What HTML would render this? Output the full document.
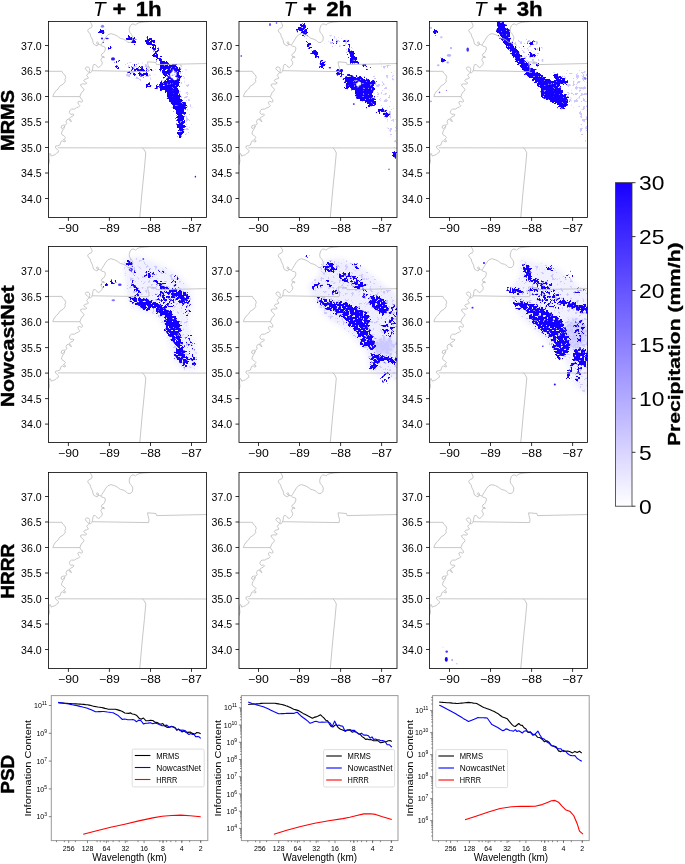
<!DOCTYPE html><html><head><meta charset="utf-8"><style>html,body{margin:0;padding:0;background:#fff;width:685px;height:864px;overflow:hidden}svg{display:block;will-change:transform}</style></head><body><svg width="685" height="864" viewBox="0 0 685 864" font-family='"Liberation Sans", sans-serif' fill="#000">
<defs><clipPath id="pc"><rect x="0" y="0" width="158" height="196"/></clipPath><filter id="bl" x="-5%" y="-5%" width="110%" height="110%" color-interpolation-filters="sRGB"><feGaussianBlur in="SourceAlpha" stdDeviation="0.8" result="a"/><feTurbulence type="fractalNoise" baseFrequency="0.42" numOctaves="3" seed="11" result="t"/><feColorMatrix in="t" type="matrix" values="0 0 0 0 0 0 0 0 0 0 0 0 0 0 0 2.5 0 0 0 -0.75" result="n"/><feComposite in="a" in2="n" operator="arithmetic" k1="0" k2="9" k3="-8" k4="-0.5" result="m"/><feFlood flood-color="#1400ff"/><feComposite in2="m" operator="in"/><feGaussianBlur stdDeviation="0.35"/></filter><filter id="wh" x="-5%" y="-5%" width="110%" height="110%" color-interpolation-filters="sRGB"><feGaussianBlur in="SourceAlpha" stdDeviation="0.8" result="a"/><feTurbulence type="fractalNoise" baseFrequency="0.42" numOctaves="3" seed="3" result="t"/><feColorMatrix in="t" type="matrix" values="0 0 0 0 0 0 0 0 0 0 0 0 0 0 0 2.5 0 0 0 -0.75" result="n"/><feComposite in="a" in2="n" operator="arithmetic" k1="0" k2="9" k3="-8" k4="-0.5" result="m"/><feFlood flood-color="#ffffff"/><feComposite in2="m" operator="in"/><feGaussianBlur stdDeviation="0.35"/></filter><filter id="lt" x="-5%" y="-5%" width="110%" height="110%" color-interpolation-filters="sRGB"><feGaussianBlur in="SourceAlpha" stdDeviation="0.8" result="a"/><feTurbulence type="fractalNoise" baseFrequency="0.32" numOctaves="3" seed="5" result="t"/><feColorMatrix in="t" type="matrix" values="0 0 0 0 0 0 0 0 0 0 0 0 0 0 0 2.5 0 0 0 -0.75" result="n"/><feComposite in="a" in2="n" operator="arithmetic" k1="0" k2="9" k3="-8" k4="-0.5" result="m"/><feFlood flood-color="#ccc8ff"/><feComposite in2="m" operator="in"/><feGaussianBlur stdDeviation="0.35"/></filter><filter id="sm" x="-50%" y="-50%" width="200%" height="200%"><feGaussianBlur stdDeviation="0.35"/></filter><filter id="hz" x="-20%" y="-20%" width="140%" height="140%"><feGaussianBlur stdDeviation="2.5"/></filter></defs>
<rect width="685" height="864" fill="#fff"/>
<g transform="translate(48.5,21.4)">
<g clip-path="url(#pc)">
<g filter="url(#sm)"><ellipse cx="54" cy="4.8" rx="1.6" ry="1.5" fill="#1400ff" fill-opacity="0.5"/><ellipse cx="53.5" cy="17.1" rx="1.1" ry="1.1" fill="#1400ff" fill-opacity="0.9"/><ellipse cx="58.5" cy="17.1" rx="1.8" ry="0.7" fill="#1400ff" fill-opacity="0.9"/><ellipse cx="54.6" cy="21" rx="0.9" ry="0.7" fill="#1400ff" fill-opacity="0.8"/><ellipse cx="64.5" cy="37.5" rx="2.0" ry="1.6" fill="#1400ff" fill-opacity="0.9"/><ellipse cx="146.9" cy="155.3" rx="0.7" ry="0.9" fill="#1400ff" fill-opacity="0.9"/></g><g filter="url(#lt)"><path d="M128.0,44.0C128.7,42.5 133.8,43.3 136.0,46.0C138.2,48.7 139.8,54.3 141.0,60.0C142.2,65.7 142.5,73.3 143.0,80.0C143.5,86.7 144.3,94.5 144.0,100.0C143.7,105.5 142.3,110.7 141.0,113.0C139.7,115.3 137.2,117.0 136.0,114.0C134.8,111.0 134.5,101.5 134.0,95.0C133.5,88.5 133.3,81.7 133.0,75.0C132.7,68.3 132.8,60.2 132.0,55.0C131.2,49.8 127.3,45.5 128.0,44.0Z" fill="#1400ff" fill-opacity="0.28"/><path d="M78.0,42.0C82.3,40.2 99.3,41.7 104.0,44.0C108.7,46.3 107.3,53.3 106.0,56.0C104.7,58.7 100.7,60.2 96.0,60.0C91.3,59.8 81.0,58.0 78.0,55.0C75.0,52.0 73.7,43.8 78.0,42.0Z" fill="#1400ff" fill-opacity="0.3"/></g><g filter="url(#bl)"><path d="M96.4,17.6C96.9,16.8 98.6,16.0 99.9,15.8C101.2,15.6 102.9,15.6 104.0,16.4C105.1,17.2 105.7,19.2 106.4,20.5C107.1,21.8 107.6,22.7 108.1,24.0C108.6,25.3 108.8,26.6 109.3,28.1C109.8,29.7 110.1,31.8 111.0,33.3C111.9,34.8 113.3,35.8 114.5,36.8C115.7,37.8 117.2,38.2 118.0,39.2C118.8,40.2 119.6,42.0 119.2,42.7C118.8,43.4 117.1,43.4 115.7,43.3C114.3,43.2 112.2,42.8 111.0,42.1C109.8,41.4 109.6,40.3 108.7,39.2C107.8,38.1 106.6,36.5 105.8,35.7C105.0,34.9 104.1,35.3 104.0,34.5C103.9,33.7 105.3,32.1 105.2,31.0C105.1,29.9 104.1,29.1 103.4,28.1C102.7,27.1 101.9,26.0 101.1,25.1C100.3,24.2 99.5,23.6 98.8,22.8C98.1,22.0 97.1,21.4 96.7,20.5C96.3,19.6 95.9,18.4 96.4,17.6Z" fill="#1400ff" fill-opacity="0.72"/><path d="M111.6,42.5C112.0,41.8 115.4,41.4 117.0,41.5C118.6,41.6 119.9,42.6 121.4,42.9C123.0,43.2 125.0,42.9 126.3,43.1C127.6,43.3 128.3,43.1 129.1,44.2C129.9,45.3 130.7,47.9 131.2,49.8C131.7,51.7 131.9,53.5 131.9,55.4C131.9,57.2 131.4,59.0 131.2,60.9C131.0,62.8 130.5,64.4 130.5,66.5C130.5,68.6 130.6,71.3 131.2,73.4C131.8,75.5 132.9,77.5 133.9,79.0C134.9,80.5 136.7,81.2 137.4,82.4C138.1,83.6 138.2,84.6 138.1,85.9C138.0,87.2 137.2,88.5 136.7,90.1C136.2,91.7 135.4,93.5 135.3,95.6C135.2,97.7 136.0,100.3 136.0,102.6C136.0,104.9 135.8,107.4 135.3,109.5C134.9,111.6 134.1,113.9 133.3,115.1C132.5,116.3 131.2,116.7 130.5,116.5C129.8,116.3 129.2,115.1 129.1,113.7C129.0,112.3 129.9,109.9 129.8,108.1C129.7,106.2 128.6,104.4 128.4,102.6C128.2,100.8 128.6,98.8 128.4,97.0C128.2,95.2 127.6,93.3 127.0,91.5C126.4,89.7 125.7,87.5 124.9,85.9C124.1,84.3 123.0,83.1 122.1,81.7C121.2,80.3 120.1,79.0 119.4,77.6C118.7,76.2 118.6,74.8 118.0,73.4C117.4,72.0 116.7,69.9 115.9,69.2C115.1,68.5 114.0,69.3 113.1,69.2C112.2,69.1 110.5,69.3 110.3,68.6C110.1,67.9 110.9,66.0 111.7,65.1C112.5,64.2 114.3,63.7 115.2,63.0C116.1,62.3 116.7,61.7 117.3,60.9C117.9,60.1 117.9,59.0 118.7,58.1C119.5,57.2 121.3,56.2 122.1,55.4C122.9,54.6 123.7,54.0 123.5,53.3C123.3,52.6 121.7,51.9 120.8,51.2C119.9,50.5 119.0,50.0 118.0,49.1C117.0,48.2 115.6,46.7 114.5,45.6C113.4,44.5 111.2,43.2 111.6,42.5Z" fill="#1400ff" fill-opacity="1.0"/><path d="M80.0,45.5C81.5,44.6 85.3,44.6 88.0,44.5C90.7,44.4 93.7,44.6 96.0,45.0C98.3,45.4 100.8,46.0 102.0,47.0C103.2,48.0 103.7,49.7 103.0,51.0C102.3,52.3 100.2,54.2 98.0,55.0C95.8,55.8 92.3,55.7 90.0,55.5C87.7,55.3 85.8,54.9 84.0,54.0C82.2,53.1 79.7,51.4 79.0,50.0C78.3,48.6 78.5,46.4 80.0,45.5Z" fill="#1400ff" fill-opacity="0.45"/><ellipse cx="53" cy="10.5" rx="3.3" ry="2.4" fill="#1400ff" fill-opacity="1.0"/><ellipse cx="61.5" cy="25.5" rx="2.8" ry="2.5" fill="#1400ff" fill-opacity="0.35"/><ellipse cx="68.9" cy="39.5" rx="2.6" ry="1.4" fill="#1400ff" fill-opacity="0.9"/><ellipse cx="68.2" cy="45.5" rx="1.6" ry="2.8" fill="#1400ff" fill-opacity="0.9"/><ellipse cx="81" cy="17" rx="2.8" ry="2.8" fill="#1400ff" fill-opacity="0.92"/><ellipse cx="85.5" cy="19.5" rx="2.0" ry="3.2" fill="#1400ff" fill-opacity="1.0"/><ellipse cx="85.7" cy="42.7" rx="2.2" ry="0.9" fill="#1400ff" fill-opacity="0.6"/><ellipse cx="93" cy="49.5" rx="2.5" ry="2.0" fill="#1400ff" fill-opacity="0.9"/><ellipse cx="94.5" cy="53.5" rx="3" ry="1.2" fill="#1400ff" fill-opacity="0.85" transform="rotate(-15 94.5 53.5)"/><ellipse cx="100.5" cy="64" rx="4.5" ry="1.5" fill="#1400ff" fill-opacity="0.85" transform="rotate(-25 100.5 64)"/><ellipse cx="113.5" cy="61.5" rx="5" ry="2.2" fill="#1400ff" fill-opacity="0.8" transform="rotate(-40 113.5 61.5)"/><path d="M111.0,43.0C112.2,42.5 116.2,43.2 118.0,44.0C119.8,44.8 121.4,46.2 122.0,48.0C122.6,49.8 122.2,53.5 121.5,55.0C120.8,56.5 119.4,57.5 118.0,57.0C116.6,56.5 114.2,53.7 113.0,52.0C111.8,50.3 110.8,48.5 110.5,47.0C110.2,45.5 109.8,43.5 111.0,43.0Z" fill="#1400ff" fill-opacity="0.85"/><ellipse cx="109.5" cy="65.5" rx="3" ry="1.5" fill="#1400ff" fill-opacity="0.7" transform="rotate(-30 109.5 65.5)"/><ellipse cx="99" cy="20" rx="2.5" ry="3.5" fill="#1400ff" fill-opacity="0.6"/></g><ellipse cx="125" cy="53.8" rx="2.8" ry="5.0" fill="#fff" fill-opacity="1" filter="url(#wh)" transform="rotate(-20 125 53.8)"/>
<g fill="none" stroke="#bdbdbd" stroke-width="0.85" stroke-linejoin="round">
<polyline points="42.0,-1.0 42.0,0.8 43.0,2.6 43.7,4.7 42.7,6.4 40.6,7.1 39.2,8.8 39.9,10.9 41.7,12.3 42.0,14.4 43.0,16.5 44.1,18.6 44.4,20.6 45.1,22.7 46.9,23.8 48.6,24.5 49.6,23.4 50.0,21.3 48.6,20.3 47.9,21.3 48.9,22.7 51.0,23.1 52.4,23.8 53.5,24.8 55.2,25.1 56.6,25.8 56.9,27.6 56.2,29.7 55.2,31.4 53.5,32.4 52.8,33.8 53.5,35.2 54.5,35.9 55.9,36.3 55.5,35.2 54.2,34.9 53.5,36.6 52.4,38.0 52.8,39.4 53.8,40.8 53.5,42.9 51.7,45.0 50.3,46.0 48.9,45.6 47.9,44.2 46.9,43.2 45.1,43.2 44.4,44.9 44.1,47.7 43.4,49.8 42.0,51.5 40.6,51.2 39.2,49.8 37.5,48.4 36.8,47.0 37.8,45.6 39.9,45.6 41.0,47.0 41.3,49.1 40.6,51.2 39.2,52.6 38.2,54.0 39.2,55.4 39.9,56.7 39.0,57.2 36.2,57.9 35.2,59.3 36.9,60.7 38.3,61.7 36.9,62.7 34.1,62.4 32.1,63.1 32.4,64.8 34.1,66.2 35.5,68.0 34.8,69.7 33.4,70.7 32.4,72.5 31.4,75.2 32.1,76.6 33.4,78.0 34.1,80.1 32.8,80.8 30.7,79.8 29.3,80.8 30.0,82.9 31.4,84.3 30.0,85.7 27.9,86.4 25.8,87.7 23.0,87.7 21.3,89.1 20.9,91.2 22.3,93.0 24.4,92.6 25.5,93.3 24.4,94.7 22.3,95.7 20.9,96.8 22.3,98.9 23.0,100.2 21.6,99.6 20.3,97.5 18.5,98.2 17.5,100.2 18.2,102.3 16.8,103.7 14.7,103.7 13.0,104.4 12.6,106.5 14.0,107.2 15.4,105.8 16.4,104.4 15.4,107.2 14.3,108.6 13.3,110.7 13.0,112.7 13.5,113.2 15.6,114.6 17.0,116.0 15.9,117.4 14.9,118.4 16.6,118.7 17.0,120.1 15.6,120.5 14.2,119.4 12.8,119.8 12.1,121.5 11.4,123.6 9.3,124.3 7.2,124.6 6.9,126.4 8.6,127.8 10.0,129.2 9.7,130.9 7.9,132.0 6.5,133.3 4.4,134.0 2.7,134.7 2.0,132.6 1.3,131.9 0.6,134.0 0.6,136.8 1.0,139.6 0.3,142.4 -1.0,145.0"/>
<polyline points="52.4,23.6 53.5,22.0 55.2,19.2 57.3,15.8 59.5,13.3 62.4,12.2 66.1,13.3 69.0,14.8 71.9,17.0 74.8,17.7 77.4,19.1 79.2,21.0 82.1,21.0 84.0,18.8 84.3,15.5 82.9,12.9 81.0,10.7 80.7,7.8 81.8,4.2 83.6,2.6 85.8,2.7 86.9,3.8 88.3,2.4 90.2,1.4 93.1,0.9 96.0,0.5 100.4,0.2 104.0,-1.0"/>
<polyline points="-1.0,49.9 13.4,49.9 14.1,51.6 16.3,53.5 17.3,56.0 16.4,58.0 16.8,60.0 14.7,62.7 11.2,64.8 9.5,67.6 7.1,69.7 5.3,72.5 4.3,75.2 31.4,75.2"/>
<polyline points="43.6,49.3 100.1,50.2 100.5,47.2 99.4,42.9 99.1,40.4 107.4,41.1 108.1,43.2 159.0,42.1"/>
<polyline points="9.3,126.4 159.0,126.6"/>
<polyline points="93.7,126.2 95.9,128.6 97.3,131.6 95.9,146.9 93.7,168.8 91.2,197.0"/>
</g>
</g>
<rect x="0" y="0" width="158" height="196" fill="none" stroke="#000" stroke-width="0.8"/>
<path d="M19.9,196v3.5 M60.9,196v3.5 M102.0,196v3.5 M143.0,196v3.5 M0,24.1h-3.5 M0,49.6h-3.5 M0,75.1h-3.5 M0,100.6h-3.5 M0,126.1h-3.5 M0,151.6h-3.5 M0,177.1h-3.5" stroke="#000" stroke-width="0.8" fill="none"/>
<text x="19.9" y="210.5" text-anchor="middle" font-size="10.6" textLength="20.8" lengthAdjust="spacingAndGlyphs">−90</text>
<text x="60.9" y="210.5" text-anchor="middle" font-size="10.6" textLength="20.8" lengthAdjust="spacingAndGlyphs">−89</text>
<text x="102.0" y="210.5" text-anchor="middle" font-size="10.6" textLength="20.8" lengthAdjust="spacingAndGlyphs">−88</text>
<text x="143.0" y="210.5" text-anchor="middle" font-size="10.6" textLength="20.8" lengthAdjust="spacingAndGlyphs">−87</text>
<text x="-6.8" y="28.4" text-anchor="end" font-size="10.6" textLength="20.6" lengthAdjust="spacingAndGlyphs">37.0</text>
<text x="-6.8" y="53.9" text-anchor="end" font-size="10.6" textLength="20.6" lengthAdjust="spacingAndGlyphs">36.5</text>
<text x="-6.8" y="79.4" text-anchor="end" font-size="10.6" textLength="20.6" lengthAdjust="spacingAndGlyphs">36.0</text>
<text x="-6.8" y="104.9" text-anchor="end" font-size="10.6" textLength="20.6" lengthAdjust="spacingAndGlyphs">35.5</text>
<text x="-6.8" y="130.4" text-anchor="end" font-size="10.6" textLength="20.6" lengthAdjust="spacingAndGlyphs">35.0</text>
<text x="-6.8" y="155.9" text-anchor="end" font-size="10.6" textLength="20.6" lengthAdjust="spacingAndGlyphs">34.5</text>
<text x="-6.8" y="181.4" text-anchor="end" font-size="10.6" textLength="20.6" lengthAdjust="spacingAndGlyphs">34.0</text>
</g>
<g transform="translate(239.0,21.4)">
<g clip-path="url(#pc)">
<g filter="url(#sm)"><ellipse cx="90.9" cy="46.4" rx="1.3" ry="0.8" fill="#1400ff" fill-opacity="0.9"/><ellipse cx="114.8" cy="82.7" rx="1.0" ry="0.8" fill="#1400ff" fill-opacity="0.9"/><ellipse cx="2.3" cy="34.6" rx="0.9" ry="0.9" fill="#1400ff" fill-opacity="0.6"/><ellipse cx="31" cy="3" rx="1" ry="1.5" fill="#1400ff" fill-opacity="0.7"/><ellipse cx="37.5" cy="1.5" rx="0.8" ry="1" fill="#1400ff" fill-opacity="0.6"/><ellipse cx="150" cy="148" rx="0.7" ry="0.8" fill="#1400ff" fill-opacity="0.7"/></g><g filter="url(#lt)"><path d="M134.0,52.0C135.3,50.3 139.3,53.0 142.0,56.0C144.7,59.0 147.8,64.3 150.0,70.0C152.2,75.7 153.7,82.5 155.0,90.0C156.3,97.5 157.7,108.7 158.0,115.0C158.3,121.3 158.0,127.5 157.0,128.0C156.0,128.5 153.7,123.0 152.0,118.0C150.3,113.0 148.8,104.3 147.0,98.0C145.2,91.7 143.2,85.3 141.0,80.0C138.8,74.7 135.2,70.7 134.0,66.0C132.8,61.3 132.7,53.7 134.0,52.0Z" fill="#1400ff" fill-opacity="0.3"/><path d="M85.0,15.0C87.0,13.2 95.5,13.2 100.0,14.0C104.5,14.8 110.0,17.3 112.0,20.0C114.0,22.7 114.0,28.7 112.0,30.0C110.0,31.3 104.0,28.8 100.0,28.0C96.0,27.2 90.5,27.2 88.0,25.0C85.5,22.8 83.0,16.8 85.0,15.0Z" fill="#1400ff" fill-opacity="0.22"/><path d="M140.0,40.0C141.7,39.0 149.0,42.3 152.0,44.0C155.0,45.7 157.0,47.3 158.0,50.0C159.0,52.7 159.3,58.7 158.0,60.0C156.7,61.3 152.7,59.7 150.0,58.0C147.3,56.3 143.7,53.0 142.0,50.0C140.3,47.0 138.3,41.0 140.0,40.0Z" fill="#1400ff" fill-opacity="0.2"/></g><g filter="url(#bl)"><path d="M104.9,57.2C105.3,56.3 106.7,55.3 107.9,54.7C109.1,54.1 110.4,53.7 111.9,53.7C113.4,53.7 115.2,54.5 116.8,54.7C118.4,55.0 120.3,54.9 121.8,55.2C123.3,55.5 124.7,56.3 125.8,56.7C126.9,57.1 127.7,57.2 128.7,57.7C129.7,58.2 130.7,59.5 131.7,59.7C132.7,60.0 133.8,59.1 134.7,59.2C135.6,59.3 137.0,59.6 137.2,60.2C137.4,60.8 136.1,61.7 135.7,62.6C135.3,63.5 134.6,64.6 134.7,65.6C134.8,66.6 136.2,67.6 136.2,68.6C136.2,69.6 135.1,70.7 134.7,71.6C134.3,72.5 133.5,73.4 133.7,74.1C133.9,74.8 135.1,75.1 135.7,76.0C136.3,76.9 137.1,78.3 137.2,79.5C137.3,80.7 136.9,82.1 136.2,83.0C135.4,83.9 133.9,84.4 132.7,85.0C131.5,85.6 130.0,86.6 129.2,86.5C128.4,86.4 127.9,85.3 127.7,84.5C127.5,83.7 128.4,82.2 128.2,81.5C128.0,80.8 127.0,81.0 126.3,80.5C125.6,80.0 124.7,78.9 123.8,78.5C122.9,78.1 121.7,78.2 120.8,78.0C119.9,77.8 119.0,77.6 118.3,77.0C117.6,76.4 117.3,75.6 116.8,74.5C116.3,73.4 115.8,71.6 115.3,70.6C114.8,69.6 114.5,69.2 113.8,68.6C113.1,68.0 112.0,67.3 110.9,67.1C109.8,66.8 108.2,67.4 107.4,67.1C106.6,66.8 106.0,65.8 105.9,65.1C105.8,64.3 107.0,63.4 106.9,62.6C106.8,61.8 105.7,61.1 105.4,60.2C105.1,59.3 104.5,58.1 104.9,57.2Z" fill="#1400ff" fill-opacity="1.0"/><path d="M137.7,89.4C138.1,88.8 139.5,87.3 140.7,87.0C141.8,86.7 143.4,87.1 144.6,87.5C145.8,87.9 146.7,88.5 147.6,89.4C148.5,90.3 149.9,91.9 150.1,93.0C150.3,94.1 149.2,95.5 148.6,95.9C148.0,96.3 147.4,96.0 146.6,95.4C145.8,94.8 144.6,93.2 143.6,92.4C142.6,91.7 141.6,91.2 140.7,90.9C139.8,90.7 138.7,91.2 138.2,90.9C137.7,90.7 137.3,90.1 137.7,89.4Z" fill="#1400ff" fill-opacity="0.97"/><path d="M58.7,5.7C59.4,4.5 61.4,2.4 62.7,1.8C64.0,1.2 65.6,1.2 66.6,2.4C67.6,3.6 68.2,7.2 68.6,9.0C69.0,10.8 69.5,11.7 69.2,12.9C68.9,14.1 67.5,16.0 66.6,16.2C65.7,16.4 65.0,15.2 64.0,14.3C63.0,13.4 61.6,11.9 60.7,11.0C59.8,10.1 59.0,9.9 58.7,9.0C58.4,8.1 58.0,6.9 58.7,5.7Z" fill="#1400ff" fill-opacity="0.92"/><path d="M108.7,29.4C109.2,28.2 110.9,27.5 112.0,28.0C113.1,28.5 114.1,31.0 115.2,32.6C116.3,34.2 117.7,36.4 118.5,37.9C119.3,39.4 120.2,41.2 119.8,41.8C119.4,42.3 117.1,41.7 115.9,41.2C114.7,40.7 113.7,39.6 112.6,38.6C111.5,37.6 109.9,36.8 109.3,35.3C108.7,33.8 108.2,30.6 108.7,29.4Z" fill="#1400ff" fill-opacity="0.95"/><ellipse cx="69.5" cy="23.5" rx="1.7" ry="3.8" fill="#1400ff" fill-opacity="0.95" transform="rotate(-30 69.5 23.5)"/><ellipse cx="76" cy="32.5" rx="3.3" ry="4.3" fill="#1400ff" fill-opacity="1.0" transform="rotate(-35 76 32.5)"/><ellipse cx="83" cy="43" rx="3" ry="3.3" fill="#1400ff" fill-opacity="1.0"/><ellipse cx="100.5" cy="50.5" rx="2.5" ry="4" fill="#1400ff" fill-opacity="1.0" transform="rotate(-30 100.5 50.5)"/><ellipse cx="101.4" cy="50.7" rx="2.5" ry="1.5" fill="#1400ff" fill-opacity="0.9"/><ellipse cx="113.8" cy="40" rx="5" ry="1.6" fill="#1400ff" fill-opacity="0.8"/><ellipse cx="126" cy="45.5" rx="5.5" ry="2.8" fill="#1400ff" fill-opacity="0.45"/><ellipse cx="155.5" cy="133" rx="2.2" ry="4.3" fill="#1400ff" fill-opacity="0.85"/><ellipse cx="93.5" cy="21.5" rx="5" ry="5.5" fill="#1400ff" fill-opacity="0.25"/><ellipse cx="108" cy="22" rx="4" ry="4" fill="#1400ff" fill-opacity="0.35"/></g><ellipse cx="119.5" cy="62.5" rx="3.2" ry="2.6" fill="#fff" filter="url(#wh)" transform="rotate(30 119.5 62.5)"/>
<g fill="none" stroke="#bdbdbd" stroke-width="0.85" stroke-linejoin="round">
<polyline points="42.0,-1.0 42.0,0.8 43.0,2.6 43.7,4.7 42.7,6.4 40.6,7.1 39.2,8.8 39.9,10.9 41.7,12.3 42.0,14.4 43.0,16.5 44.1,18.6 44.4,20.6 45.1,22.7 46.9,23.8 48.6,24.5 49.6,23.4 50.0,21.3 48.6,20.3 47.9,21.3 48.9,22.7 51.0,23.1 52.4,23.8 53.5,24.8 55.2,25.1 56.6,25.8 56.9,27.6 56.2,29.7 55.2,31.4 53.5,32.4 52.8,33.8 53.5,35.2 54.5,35.9 55.9,36.3 55.5,35.2 54.2,34.9 53.5,36.6 52.4,38.0 52.8,39.4 53.8,40.8 53.5,42.9 51.7,45.0 50.3,46.0 48.9,45.6 47.9,44.2 46.9,43.2 45.1,43.2 44.4,44.9 44.1,47.7 43.4,49.8 42.0,51.5 40.6,51.2 39.2,49.8 37.5,48.4 36.8,47.0 37.8,45.6 39.9,45.6 41.0,47.0 41.3,49.1 40.6,51.2 39.2,52.6 38.2,54.0 39.2,55.4 39.9,56.7 39.0,57.2 36.2,57.9 35.2,59.3 36.9,60.7 38.3,61.7 36.9,62.7 34.1,62.4 32.1,63.1 32.4,64.8 34.1,66.2 35.5,68.0 34.8,69.7 33.4,70.7 32.4,72.5 31.4,75.2 32.1,76.6 33.4,78.0 34.1,80.1 32.8,80.8 30.7,79.8 29.3,80.8 30.0,82.9 31.4,84.3 30.0,85.7 27.9,86.4 25.8,87.7 23.0,87.7 21.3,89.1 20.9,91.2 22.3,93.0 24.4,92.6 25.5,93.3 24.4,94.7 22.3,95.7 20.9,96.8 22.3,98.9 23.0,100.2 21.6,99.6 20.3,97.5 18.5,98.2 17.5,100.2 18.2,102.3 16.8,103.7 14.7,103.7 13.0,104.4 12.6,106.5 14.0,107.2 15.4,105.8 16.4,104.4 15.4,107.2 14.3,108.6 13.3,110.7 13.0,112.7 13.5,113.2 15.6,114.6 17.0,116.0 15.9,117.4 14.9,118.4 16.6,118.7 17.0,120.1 15.6,120.5 14.2,119.4 12.8,119.8 12.1,121.5 11.4,123.6 9.3,124.3 7.2,124.6 6.9,126.4 8.6,127.8 10.0,129.2 9.7,130.9 7.9,132.0 6.5,133.3 4.4,134.0 2.7,134.7 2.0,132.6 1.3,131.9 0.6,134.0 0.6,136.8 1.0,139.6 0.3,142.4 -1.0,145.0"/>
<polyline points="52.4,23.6 53.5,22.0 55.2,19.2 57.3,15.8 59.5,13.3 62.4,12.2 66.1,13.3 69.0,14.8 71.9,17.0 74.8,17.7 77.4,19.1 79.2,21.0 82.1,21.0 84.0,18.8 84.3,15.5 82.9,12.9 81.0,10.7 80.7,7.8 81.8,4.2 83.6,2.6 85.8,2.7 86.9,3.8 88.3,2.4 90.2,1.4 93.1,0.9 96.0,0.5 100.4,0.2 104.0,-1.0"/>
<polyline points="-1.0,49.9 13.4,49.9 14.1,51.6 16.3,53.5 17.3,56.0 16.4,58.0 16.8,60.0 14.7,62.7 11.2,64.8 9.5,67.6 7.1,69.7 5.3,72.5 4.3,75.2 31.4,75.2"/>
<polyline points="43.6,49.3 100.1,50.2 100.5,47.2 99.4,42.9 99.1,40.4 107.4,41.1 108.1,43.2 159.0,42.1"/>
<polyline points="9.3,126.4 159.0,126.6"/>
<polyline points="93.7,126.2 95.9,128.6 97.3,131.6 95.9,146.9 93.7,168.8 91.2,197.0"/>
</g>
</g>
<rect x="0" y="0" width="158" height="196" fill="none" stroke="#000" stroke-width="0.8"/>
<path d="M19.5,196v3.5 M60.5,196v3.5 M101.6,196v3.5 M142.6,196v3.5 M0,24.1h-3.5 M0,49.6h-3.5 M0,75.1h-3.5 M0,100.6h-3.5 M0,126.1h-3.5 M0,151.6h-3.5 M0,177.1h-3.5" stroke="#000" stroke-width="0.8" fill="none"/>
<text x="19.5" y="210.5" text-anchor="middle" font-size="10.6" textLength="20.8" lengthAdjust="spacingAndGlyphs">−90</text>
<text x="60.5" y="210.5" text-anchor="middle" font-size="10.6" textLength="20.8" lengthAdjust="spacingAndGlyphs">−89</text>
<text x="101.6" y="210.5" text-anchor="middle" font-size="10.6" textLength="20.8" lengthAdjust="spacingAndGlyphs">−88</text>
<text x="142.6" y="210.5" text-anchor="middle" font-size="10.6" textLength="20.8" lengthAdjust="spacingAndGlyphs">−87</text>
<text x="-6.8" y="28.4" text-anchor="end" font-size="10.6" textLength="20.6" lengthAdjust="spacingAndGlyphs">37.0</text>
<text x="-6.8" y="53.9" text-anchor="end" font-size="10.6" textLength="20.6" lengthAdjust="spacingAndGlyphs">36.5</text>
<text x="-6.8" y="79.4" text-anchor="end" font-size="10.6" textLength="20.6" lengthAdjust="spacingAndGlyphs">36.0</text>
<text x="-6.8" y="104.9" text-anchor="end" font-size="10.6" textLength="20.6" lengthAdjust="spacingAndGlyphs">35.5</text>
<text x="-6.8" y="130.4" text-anchor="end" font-size="10.6" textLength="20.6" lengthAdjust="spacingAndGlyphs">35.0</text>
<text x="-6.8" y="155.9" text-anchor="end" font-size="10.6" textLength="20.6" lengthAdjust="spacingAndGlyphs">34.5</text>
<text x="-6.8" y="181.4" text-anchor="end" font-size="10.6" textLength="20.6" lengthAdjust="spacingAndGlyphs">34.0</text>
</g>
<g transform="translate(429.5,21.4)">
<g clip-path="url(#pc)">
<g filter="url(#sm)"><ellipse cx="38.2" cy="28.2" rx="1.3" ry="2.2" fill="#1400ff" fill-opacity="0.8"/><ellipse cx="1.5" cy="6.5" rx="1" ry="0.9" fill="#1400ff" fill-opacity="0.3"/><ellipse cx="11.8" cy="15.8" rx="1.2" ry="1.2" fill="#1400ff" fill-opacity="0.2"/><ellipse cx="21.5" cy="26.7" rx="1" ry="1.1" fill="#1400ff" fill-opacity="0.35"/><ellipse cx="19.5" cy="34" rx="2.2" ry="1.3" fill="#1400ff" fill-opacity="0.3"/><ellipse cx="18.2" cy="41" rx="1.2" ry="1" fill="#1400ff" fill-opacity="0.4"/><ellipse cx="8.8" cy="43.8" rx="1.2" ry="1" fill="#1400ff" fill-opacity="0.3"/><ellipse cx="1.5" cy="80" rx="0.7" ry="0.8" fill="#1400ff" fill-opacity="0.5"/><ellipse cx="10" cy="71" rx="0.8" ry="0.8" fill="#1400ff" fill-opacity="0.6"/><ellipse cx="17" cy="69" rx="0.6" ry="0.6" fill="#1400ff" fill-opacity="0.5"/><ellipse cx="155" cy="57" rx="2" ry="1.5" fill="#1400ff" fill-opacity="0.5"/></g><g filter="url(#lt)"><path d="M134.0,52.0C135.0,47.0 142.0,50.0 146.0,50.0C150.0,50.0 155.8,43.7 158.0,52.0C160.2,60.3 159.3,88.7 159.0,100.0C158.7,111.3 157.5,118.3 156.0,120.0C154.5,121.7 151.3,115.0 150.0,110.0C148.7,105.0 149.7,95.0 148.0,90.0C146.3,85.0 142.3,86.3 140.0,80.0C137.7,73.7 133.0,57.0 134.0,52.0Z" fill="#1400ff" fill-opacity="0.32"/><path d="M78.0,20.0C79.7,17.2 94.3,17.2 100.0,18.0C105.7,18.8 110.0,20.5 112.0,25.0C114.0,29.5 114.0,41.7 112.0,45.0C110.0,48.3 103.7,46.7 100.0,45.0C96.3,43.3 93.7,39.2 90.0,35.0C86.3,30.8 76.3,22.8 78.0,20.0Z" fill="#1400ff" fill-opacity="0.3"/></g><g filter="url(#bl)"><path d="M67.7,0.5C67.5,2.2 66.4,5.9 66.9,8.4C67.4,10.9 69.2,13.1 70.5,15.5C71.8,17.9 73.4,20.6 74.8,22.7C76.2,24.8 77.7,26.2 79.1,28.4C80.5,30.5 82.0,33.5 83.4,35.6C84.8,37.8 86.2,39.4 87.7,41.3C89.2,43.2 91.4,45.1 92.7,47.0C94.0,48.9 94.2,51.2 95.5,52.7C96.8,54.2 98.8,54.9 100.6,56.3C102.4,57.7 104.8,59.5 106.3,61.3C107.8,63.1 109.2,65.3 109.9,67.0C110.6,68.7 110.1,69.9 110.6,71.3C111.1,72.7 111.0,74.2 112.7,75.6C114.4,77.0 118.1,78.5 120.6,79.9C123.1,81.3 126.0,82.9 127.7,84.2C129.4,85.5 129.4,87.3 130.6,87.8C131.8,88.3 133.6,87.9 134.9,87.1C136.2,86.3 137.8,84.2 138.5,82.8C139.2,81.4 139.6,79.9 139.2,78.5C138.8,77.1 137.2,75.6 136.3,74.2C135.4,72.8 134.4,71.3 133.5,69.9C132.6,68.5 131.6,66.8 130.6,65.6C129.6,64.4 128.9,63.7 127.7,62.7C126.5,61.8 125.1,60.9 123.4,59.9C121.7,58.9 119.4,57.8 117.7,57.0C116.0,56.2 114.8,55.9 113.4,54.9C112.0,53.9 110.8,52.6 109.1,51.3C107.4,50.0 105.2,48.7 103.4,47.0C101.6,45.3 99.8,43.0 98.4,41.3C97.0,39.6 96.1,38.4 94.8,37.0C93.5,35.6 91.7,34.1 90.5,32.7C89.3,31.3 88.9,30.1 87.7,28.4C86.5,26.7 84.6,24.6 83.4,22.7C82.2,20.8 81.0,19.1 80.5,17.0C80.0,14.8 81.1,11.7 80.5,9.8C79.9,7.9 78.2,6.9 77.0,5.5C75.8,4.1 74.1,2.4 73.4,1.2C72.7,0.0 73.5,-1.1 72.7,-1.5C71.9,-1.9 69.2,-1.8 68.4,-1.5C67.6,-1.2 68.0,-1.2 67.7,0.5Z" fill="#1400ff" fill-opacity="1.0"/><path d="M123.4,54.2C123.6,52.4 126.3,51.6 127.7,52.0C129.1,52.4 130.6,55.3 132.0,56.3C133.4,57.2 135.1,56.9 136.3,57.7C137.5,58.5 139.4,60.5 139.2,61.3C139.0,62.1 136.3,62.2 134.9,62.7C133.5,63.2 132.0,64.2 130.6,64.2C129.2,64.2 127.5,64.4 126.3,62.7C125.1,61.0 123.2,56.0 123.4,54.2Z" fill="#1400ff" fill-opacity="0.92"/><ellipse cx="102.3" cy="22" rx="2.5" ry="2.2" fill="#1400ff" fill-opacity="0.95"/><ellipse cx="102.3" cy="34" rx="2.5" ry="2.8" fill="#1400ff" fill-opacity="0.95"/><ellipse cx="108.5" cy="43.5" rx="2.2" ry="2.2" fill="#1400ff" fill-opacity="0.9"/><ellipse cx="95" cy="25" rx="4" ry="4" fill="#1400ff" fill-opacity="0.25"/><ellipse cx="108" cy="30" rx="4" ry="5" fill="#1400ff" fill-opacity="0.25"/><ellipse cx="5.5" cy="10.6" rx="2.5" ry="2.4" fill="#1400ff" fill-opacity="1.0"/><ellipse cx="14.1" cy="38.8" rx="2.9" ry="2.3" fill="#1400ff" fill-opacity="1.0"/><ellipse cx="150" cy="53" rx="2.5" ry="1.2" fill="#1400ff" fill-opacity="0.4"/></g>
<g fill="none" stroke="#bdbdbd" stroke-width="0.85" stroke-linejoin="round">
<polyline points="42.0,-1.0 42.0,0.8 43.0,2.6 43.7,4.7 42.7,6.4 40.6,7.1 39.2,8.8 39.9,10.9 41.7,12.3 42.0,14.4 43.0,16.5 44.1,18.6 44.4,20.6 45.1,22.7 46.9,23.8 48.6,24.5 49.6,23.4 50.0,21.3 48.6,20.3 47.9,21.3 48.9,22.7 51.0,23.1 52.4,23.8 53.5,24.8 55.2,25.1 56.6,25.8 56.9,27.6 56.2,29.7 55.2,31.4 53.5,32.4 52.8,33.8 53.5,35.2 54.5,35.9 55.9,36.3 55.5,35.2 54.2,34.9 53.5,36.6 52.4,38.0 52.8,39.4 53.8,40.8 53.5,42.9 51.7,45.0 50.3,46.0 48.9,45.6 47.9,44.2 46.9,43.2 45.1,43.2 44.4,44.9 44.1,47.7 43.4,49.8 42.0,51.5 40.6,51.2 39.2,49.8 37.5,48.4 36.8,47.0 37.8,45.6 39.9,45.6 41.0,47.0 41.3,49.1 40.6,51.2 39.2,52.6 38.2,54.0 39.2,55.4 39.9,56.7 39.0,57.2 36.2,57.9 35.2,59.3 36.9,60.7 38.3,61.7 36.9,62.7 34.1,62.4 32.1,63.1 32.4,64.8 34.1,66.2 35.5,68.0 34.8,69.7 33.4,70.7 32.4,72.5 31.4,75.2 32.1,76.6 33.4,78.0 34.1,80.1 32.8,80.8 30.7,79.8 29.3,80.8 30.0,82.9 31.4,84.3 30.0,85.7 27.9,86.4 25.8,87.7 23.0,87.7 21.3,89.1 20.9,91.2 22.3,93.0 24.4,92.6 25.5,93.3 24.4,94.7 22.3,95.7 20.9,96.8 22.3,98.9 23.0,100.2 21.6,99.6 20.3,97.5 18.5,98.2 17.5,100.2 18.2,102.3 16.8,103.7 14.7,103.7 13.0,104.4 12.6,106.5 14.0,107.2 15.4,105.8 16.4,104.4 15.4,107.2 14.3,108.6 13.3,110.7 13.0,112.7 13.5,113.2 15.6,114.6 17.0,116.0 15.9,117.4 14.9,118.4 16.6,118.7 17.0,120.1 15.6,120.5 14.2,119.4 12.8,119.8 12.1,121.5 11.4,123.6 9.3,124.3 7.2,124.6 6.9,126.4 8.6,127.8 10.0,129.2 9.7,130.9 7.9,132.0 6.5,133.3 4.4,134.0 2.7,134.7 2.0,132.6 1.3,131.9 0.6,134.0 0.6,136.8 1.0,139.6 0.3,142.4 -1.0,145.0"/>
<polyline points="52.4,23.6 53.5,22.0 55.2,19.2 57.3,15.8 59.5,13.3 62.4,12.2 66.1,13.3 69.0,14.8 71.9,17.0 74.8,17.7 77.4,19.1 79.2,21.0 82.1,21.0 84.0,18.8 84.3,15.5 82.9,12.9 81.0,10.7 80.7,7.8 81.8,4.2 83.6,2.6 85.8,2.7 86.9,3.8 88.3,2.4 90.2,1.4 93.1,0.9 96.0,0.5 100.4,0.2 104.0,-1.0"/>
<polyline points="-1.0,49.9 13.4,49.9 14.1,51.6 16.3,53.5 17.3,56.0 16.4,58.0 16.8,60.0 14.7,62.7 11.2,64.8 9.5,67.6 7.1,69.7 5.3,72.5 4.3,75.2 31.4,75.2"/>
<polyline points="43.6,49.3 100.1,50.2 100.5,47.2 99.4,42.9 99.1,40.4 107.4,41.1 108.1,43.2 159.0,42.1"/>
<polyline points="9.3,126.4 159.0,126.6"/>
<polyline points="93.7,126.2 95.9,128.6 97.3,131.6 95.9,146.9 93.7,168.8 91.2,197.0"/>
</g>
</g>
<rect x="0" y="0" width="158" height="196" fill="none" stroke="#000" stroke-width="0.8"/>
<path d="M20.0,196v3.5 M61.0,196v3.5 M102.1,196v3.5 M143.1,196v3.5 M0,24.1h-3.5 M0,49.6h-3.5 M0,75.1h-3.5 M0,100.6h-3.5 M0,126.1h-3.5 M0,151.6h-3.5 M0,177.1h-3.5" stroke="#000" stroke-width="0.8" fill="none"/>
<text x="20.0" y="210.5" text-anchor="middle" font-size="10.6" textLength="20.8" lengthAdjust="spacingAndGlyphs">−90</text>
<text x="61.0" y="210.5" text-anchor="middle" font-size="10.6" textLength="20.8" lengthAdjust="spacingAndGlyphs">−89</text>
<text x="102.1" y="210.5" text-anchor="middle" font-size="10.6" textLength="20.8" lengthAdjust="spacingAndGlyphs">−88</text>
<text x="143.1" y="210.5" text-anchor="middle" font-size="10.6" textLength="20.8" lengthAdjust="spacingAndGlyphs">−87</text>
<text x="-6.8" y="28.4" text-anchor="end" font-size="10.6" textLength="20.6" lengthAdjust="spacingAndGlyphs">37.0</text>
<text x="-6.8" y="53.9" text-anchor="end" font-size="10.6" textLength="20.6" lengthAdjust="spacingAndGlyphs">36.5</text>
<text x="-6.8" y="79.4" text-anchor="end" font-size="10.6" textLength="20.6" lengthAdjust="spacingAndGlyphs">36.0</text>
<text x="-6.8" y="104.9" text-anchor="end" font-size="10.6" textLength="20.6" lengthAdjust="spacingAndGlyphs">35.5</text>
<text x="-6.8" y="130.4" text-anchor="end" font-size="10.6" textLength="20.6" lengthAdjust="spacingAndGlyphs">35.0</text>
<text x="-6.8" y="155.9" text-anchor="end" font-size="10.6" textLength="20.6" lengthAdjust="spacingAndGlyphs">34.5</text>
<text x="-6.8" y="181.4" text-anchor="end" font-size="10.6" textLength="20.6" lengthAdjust="spacingAndGlyphs">34.0</text>
</g>
<g transform="translate(48.5,246.5)">
<g clip-path="url(#pc)">
<g filter="url(#sm)"><ellipse cx="82.3" cy="23.1" rx="2" ry="1.8" fill="#1400ff" fill-opacity="0.75"/><ellipse cx="94.8" cy="12.5" rx="0.9" ry="1.1" fill="#1400ff" fill-opacity="0.7"/><ellipse cx="71.3" cy="38.2" rx="1.8" ry="1.3" fill="#1400ff" fill-opacity="0.75"/><ellipse cx="64.8" cy="53.7" rx="1.8" ry="1" fill="#1400ff" fill-opacity="0.55"/></g><g filter="url(#hz)"><path d="M76.7,12.2C79.6,11.0 86.3,9.5 92.6,10.7C98.9,11.9 108.3,16.5 114.3,19.4C120.3,22.3 124.7,25.0 128.8,28.1C132.9,31.2 136.5,35.1 138.9,38.2C141.3,41.3 142.6,43.0 143.3,46.9C144.0,50.8 143.8,57.2 143.3,61.3C142.8,65.4 140.7,67.6 140.4,71.5C140.2,75.4 140.6,79.5 141.8,84.5C143.0,89.5 146.4,96.0 147.6,101.8C148.8,107.6 149.7,115.6 149.0,119.2C148.3,122.8 145.7,122.8 143.3,123.5C140.9,124.2 137.5,125.2 134.6,123.5C131.7,121.8 128.3,118.0 125.9,113.4C123.5,108.8 122.0,101.8 120.1,96.0C118.2,90.2 116.9,83.5 114.3,78.7C111.7,73.9 107.6,69.3 104.2,67.1C100.8,64.9 97.7,67.2 94.1,65.7C90.5,64.2 85.2,61.5 82.5,58.4C79.8,55.3 79.2,51.2 78.2,46.9C77.2,42.6 77.2,37.2 76.7,32.4C76.2,27.6 75.3,21.4 75.3,18.0C75.3,14.6 73.8,13.4 76.7,12.2Z" fill="#1400ff" fill-opacity="0.06"/></g><g filter="url(#lt)"><path d="M76.7,12.2C79.6,11.0 86.3,9.5 92.6,10.7C98.9,11.9 108.3,16.5 114.3,19.4C120.3,22.3 124.7,25.0 128.8,28.1C132.9,31.2 136.5,35.1 138.9,38.2C141.3,41.3 142.6,43.0 143.3,46.9C144.0,50.8 143.8,57.2 143.3,61.3C142.8,65.4 140.7,67.6 140.4,71.5C140.2,75.4 140.6,79.5 141.8,84.5C143.0,89.5 146.4,96.0 147.6,101.8C148.8,107.6 149.7,115.6 149.0,119.2C148.3,122.8 145.7,122.8 143.3,123.5C140.9,124.2 137.5,125.2 134.6,123.5C131.7,121.8 128.3,118.0 125.9,113.4C123.5,108.8 122.0,101.8 120.1,96.0C118.2,90.2 116.9,83.5 114.3,78.7C111.7,73.9 107.6,69.3 104.2,67.1C100.8,64.9 97.7,67.2 94.1,65.7C90.5,64.2 85.2,61.5 82.5,58.4C79.8,55.3 79.2,51.2 78.2,46.9C77.2,42.6 77.2,37.2 76.7,32.4C76.2,27.6 75.3,21.4 75.3,18.0C75.3,14.6 73.8,13.4 76.7,12.2Z" fill="#1400ff" fill-opacity="0.2"/></g><g filter="url(#bl)"><path d="M81.4,50.5C82.2,49.6 85.7,49.3 88.0,49.5C90.3,49.7 92.8,50.8 95.0,51.5C97.2,52.2 99.2,52.9 101.0,53.5C102.8,54.1 104.3,54.3 106.0,55.0C107.7,55.7 109.5,56.7 111.0,57.5C112.5,58.3 113.7,59.0 115.0,60.0C116.3,61.0 118.8,62.5 119.0,63.5C119.2,64.5 117.5,65.9 116.0,66.0C114.5,66.1 112.0,64.7 110.0,64.0C108.0,63.3 105.8,62.1 104.0,62.0C102.2,61.9 100.3,63.0 99.0,63.5C97.7,64.0 97.0,65.2 96.0,65.0C95.0,64.8 94.3,63.2 93.0,62.0C91.7,60.8 89.7,59.2 88.0,58.0C86.3,56.8 84.1,56.2 83.0,55.0C81.9,53.8 80.6,51.4 81.4,50.5Z" fill="#1400ff" fill-opacity="0.88"/><path d="M108.8,63.5C107.2,64.2 108.4,66.2 109.6,67.5C110.8,68.8 115.0,69.8 116.1,71.6C117.2,73.4 116.0,75.8 116.1,78.1C116.2,80.4 116.0,83.1 116.9,85.4C117.9,87.7 120.3,89.9 121.8,91.9C123.3,93.9 124.7,95.8 125.8,97.5C126.9,99.2 128.2,100.4 128.2,102.4C128.2,104.4 125.2,107.6 125.8,109.7C126.3,111.8 129.9,113.5 131.5,115.3C133.1,117.0 134.3,119.7 135.5,120.2C136.7,120.8 138.0,119.7 138.8,118.6C139.6,117.5 140.7,115.3 140.4,113.7C140.1,112.1 137.9,110.5 137.1,108.9C136.3,107.3 136.0,105.9 135.5,104.0C135.0,102.1 134.4,99.7 133.9,97.5C133.4,95.3 132.6,93.3 132.3,91.0C132.0,88.7 132.4,86.1 132.3,83.8C132.2,81.5 132.2,79.3 131.5,77.3C130.8,75.3 129.5,73.4 128.2,71.6C126.8,69.8 124.9,68.0 123.4,66.7C121.9,65.4 121.7,64.0 119.3,63.5C116.9,63.0 110.4,62.8 108.8,63.5Z" fill="#1400ff" fill-opacity="0.92"/><path d="M121.0,43.0C121.9,42.0 125.0,41.9 127.0,42.0C129.0,42.1 131.2,42.8 133.0,43.5C134.8,44.2 136.8,44.9 138.0,46.0C139.2,47.1 140.2,48.5 140.5,50.0C140.8,51.5 140.6,53.8 140.0,55.0C139.4,56.2 138.2,57.2 137.0,57.5C135.8,57.8 134.3,57.1 133.0,56.5C131.7,55.9 130.3,54.9 129.0,54.0C127.7,53.1 126.2,52.0 125.0,51.0C123.8,50.0 122.2,49.3 121.5,48.0C120.8,46.7 120.1,44.0 121.0,43.0Z" fill="#1400ff" fill-opacity="0.88"/><path d="M110.0,44.0C112.2,42.8 118.3,41.7 121.0,43.0C123.7,44.3 125.2,49.2 126.0,52.0C126.8,54.8 127.2,58.3 126.0,60.0C124.8,61.7 121.3,62.5 119.0,62.0C116.7,61.5 113.8,59.0 112.0,57.0C110.2,55.0 108.3,52.2 108.0,50.0C107.7,47.8 107.8,45.2 110.0,44.0Z" fill="#1400ff" fill-opacity="0.5"/><path d="M82.0,35.5C82.3,34.8 84.0,34.4 85.0,35.0C86.0,35.6 86.9,37.5 88.0,39.0C89.1,40.5 90.8,42.6 91.5,44.0C92.2,45.4 92.3,46.9 92.0,47.5C91.7,48.1 90.5,48.2 89.5,47.5C88.5,46.8 87.1,44.4 86.0,43.0C84.9,41.6 83.7,40.2 83.0,39.0C82.3,37.8 81.7,36.2 82.0,35.5Z" fill="#1400ff" fill-opacity="0.75"/><path d="M106.0,33.5C106.6,32.9 108.7,32.7 110.0,33.0C111.3,33.3 112.7,34.5 114.0,35.5C115.3,36.5 117.2,37.8 118.0,39.0C118.8,40.2 119.2,42.0 118.5,42.5C117.8,43.0 115.6,42.6 114.0,42.0C112.4,41.4 110.2,39.9 109.0,39.0C107.8,38.1 107.0,37.4 106.5,36.5C106.0,35.6 105.4,34.1 106.0,33.5Z" fill="#1400ff" fill-opacity="0.7"/><ellipse cx="100.5" cy="27.5" rx="5.5" ry="4.5" fill="#1400ff" fill-opacity="0.55"/><ellipse cx="80.8" cy="16.7" rx="3.5" ry="3.5" fill="#1400ff" fill-opacity="0.8"/><ellipse cx="126.4" cy="35.4" rx="3.5" ry="7" fill="#1400ff" fill-opacity="0.4"/><ellipse cx="138.6" cy="60" rx="4" ry="10" fill="#1400ff" fill-opacity="0.4"/><ellipse cx="145.2" cy="114" rx="3.2" ry="6" fill="#1400ff" fill-opacity="0.6"/><ellipse cx="141.5" cy="97" rx="5" ry="11" fill="#1400ff" fill-opacity="0.3"/><ellipse cx="63" cy="36" rx="5.5" ry="1.8" fill="#1400ff" fill-opacity="0.6" transform="rotate(-28 63 36)"/><ellipse cx="57" cy="38" rx="4" ry="2.5" fill="#1400ff" fill-opacity="0.35" transform="rotate(-20 57 38)"/><ellipse cx="86" cy="26" rx="3" ry="2.5" fill="#1400ff" fill-opacity="0.35"/><ellipse cx="114" cy="24" rx="4" ry="3" fill="#1400ff" fill-opacity="0.35"/></g>
<g fill="none" stroke="#bdbdbd" stroke-width="0.85" stroke-linejoin="round">
<polyline points="42.0,-1.0 42.0,0.8 43.0,2.6 43.7,4.7 42.7,6.4 40.6,7.1 39.2,8.8 39.9,10.9 41.7,12.3 42.0,14.4 43.0,16.5 44.1,18.6 44.4,20.6 45.1,22.7 46.9,23.8 48.6,24.5 49.6,23.4 50.0,21.3 48.6,20.3 47.9,21.3 48.9,22.7 51.0,23.1 52.4,23.8 53.5,24.8 55.2,25.1 56.6,25.8 56.9,27.6 56.2,29.7 55.2,31.4 53.5,32.4 52.8,33.8 53.5,35.2 54.5,35.9 55.9,36.3 55.5,35.2 54.2,34.9 53.5,36.6 52.4,38.0 52.8,39.4 53.8,40.8 53.5,42.9 51.7,45.0 50.3,46.0 48.9,45.6 47.9,44.2 46.9,43.2 45.1,43.2 44.4,44.9 44.1,47.7 43.4,49.8 42.0,51.5 40.6,51.2 39.2,49.8 37.5,48.4 36.8,47.0 37.8,45.6 39.9,45.6 41.0,47.0 41.3,49.1 40.6,51.2 39.2,52.6 38.2,54.0 39.2,55.4 39.9,56.7 39.0,57.2 36.2,57.9 35.2,59.3 36.9,60.7 38.3,61.7 36.9,62.7 34.1,62.4 32.1,63.1 32.4,64.8 34.1,66.2 35.5,68.0 34.8,69.7 33.4,70.7 32.4,72.5 31.4,75.2 32.1,76.6 33.4,78.0 34.1,80.1 32.8,80.8 30.7,79.8 29.3,80.8 30.0,82.9 31.4,84.3 30.0,85.7 27.9,86.4 25.8,87.7 23.0,87.7 21.3,89.1 20.9,91.2 22.3,93.0 24.4,92.6 25.5,93.3 24.4,94.7 22.3,95.7 20.9,96.8 22.3,98.9 23.0,100.2 21.6,99.6 20.3,97.5 18.5,98.2 17.5,100.2 18.2,102.3 16.8,103.7 14.7,103.7 13.0,104.4 12.6,106.5 14.0,107.2 15.4,105.8 16.4,104.4 15.4,107.2 14.3,108.6 13.3,110.7 13.0,112.7 13.5,113.2 15.6,114.6 17.0,116.0 15.9,117.4 14.9,118.4 16.6,118.7 17.0,120.1 15.6,120.5 14.2,119.4 12.8,119.8 12.1,121.5 11.4,123.6 9.3,124.3 7.2,124.6 6.9,126.4 8.6,127.8 10.0,129.2 9.7,130.9 7.9,132.0 6.5,133.3 4.4,134.0 2.7,134.7 2.0,132.6 1.3,131.9 0.6,134.0 0.6,136.8 1.0,139.6 0.3,142.4 -1.0,145.0"/>
<polyline points="52.4,23.6 53.5,22.0 55.2,19.2 57.3,15.8 59.5,13.3 62.4,12.2 66.1,13.3 69.0,14.8 71.9,17.0 74.8,17.7 77.4,19.1 79.2,21.0 82.1,21.0 84.0,18.8 84.3,15.5 82.9,12.9 81.0,10.7 80.7,7.8 81.8,4.2 83.6,2.6 85.8,2.7 86.9,3.8 88.3,2.4 90.2,1.4 93.1,0.9 96.0,0.5 100.4,0.2 104.0,-1.0"/>
<polyline points="-1.0,49.9 13.4,49.9 14.1,51.6 16.3,53.5 17.3,56.0 16.4,58.0 16.8,60.0 14.7,62.7 11.2,64.8 9.5,67.6 7.1,69.7 5.3,72.5 4.3,75.2 31.4,75.2"/>
<polyline points="43.6,49.3 100.1,50.2 100.5,47.2 99.4,42.9 99.1,40.4 107.4,41.1 108.1,43.2 159.0,42.1"/>
<polyline points="9.3,126.4 159.0,126.6"/>
<polyline points="93.7,126.2 95.9,128.6 97.3,131.6 95.9,146.9 93.7,168.8 91.2,197.0"/>
</g>
</g>
<rect x="0" y="0" width="158" height="196" fill="none" stroke="#000" stroke-width="0.8"/>
<path d="M19.9,196v3.5 M60.9,196v3.5 M102.0,196v3.5 M143.0,196v3.5 M0,24.6h-3.5 M0,50.1h-3.5 M0,75.6h-3.5 M0,101.1h-3.5 M0,126.6h-3.5 M0,152.1h-3.5 M0,177.6h-3.5" stroke="#000" stroke-width="0.8" fill="none"/>
<text x="19.9" y="210.5" text-anchor="middle" font-size="10.6" textLength="20.8" lengthAdjust="spacingAndGlyphs">−90</text>
<text x="60.9" y="210.5" text-anchor="middle" font-size="10.6" textLength="20.8" lengthAdjust="spacingAndGlyphs">−89</text>
<text x="102.0" y="210.5" text-anchor="middle" font-size="10.6" textLength="20.8" lengthAdjust="spacingAndGlyphs">−88</text>
<text x="143.0" y="210.5" text-anchor="middle" font-size="10.6" textLength="20.8" lengthAdjust="spacingAndGlyphs">−87</text>
<text x="-6.8" y="28.9" text-anchor="end" font-size="10.6" textLength="20.6" lengthAdjust="spacingAndGlyphs">37.0</text>
<text x="-6.8" y="54.4" text-anchor="end" font-size="10.6" textLength="20.6" lengthAdjust="spacingAndGlyphs">36.5</text>
<text x="-6.8" y="79.9" text-anchor="end" font-size="10.6" textLength="20.6" lengthAdjust="spacingAndGlyphs">36.0</text>
<text x="-6.8" y="105.4" text-anchor="end" font-size="10.6" textLength="20.6" lengthAdjust="spacingAndGlyphs">35.5</text>
<text x="-6.8" y="130.9" text-anchor="end" font-size="10.6" textLength="20.6" lengthAdjust="spacingAndGlyphs">35.0</text>
<text x="-6.8" y="156.4" text-anchor="end" font-size="10.6" textLength="20.6" lengthAdjust="spacingAndGlyphs">34.5</text>
<text x="-6.8" y="181.9" text-anchor="end" font-size="10.6" textLength="20.6" lengthAdjust="spacingAndGlyphs">34.0</text>
</g>
<g transform="translate(239.0,246.5)">
<g clip-path="url(#pc)">
<g filter="url(#hz)"><path d="M83.6,15.5C87.3,12.7 95.3,11.7 101.6,12.5C107.9,13.3 115.7,17.1 121.2,20.1C126.7,23.1 130.3,27.1 134.8,30.6C139.3,34.1 144.7,38.1 148.3,41.1C151.9,44.1 154.7,42.4 156.6,48.7C158.5,55.0 159.4,65.5 160.0,78.8C160.6,92.1 161.9,120.0 160.0,128.5C158.1,137.0 153.0,130.8 148.3,130.0C143.6,129.2 135.3,128.0 131.8,124.0C128.3,120.0 129.7,110.9 127.2,105.9C124.7,100.9 120.5,97.8 116.7,93.8C113.0,89.8 109.5,85.6 104.7,81.8C99.9,78.0 92.4,75.2 88.1,71.2C83.8,67.2 81.4,61.0 79.1,57.7C76.8,54.5 76.0,54.7 74.5,51.7C73.0,48.7 69.2,43.4 70.0,39.6C70.8,35.8 76.8,33.1 79.1,29.1C81.4,25.1 79.8,18.3 83.6,15.5Z" fill="#1400ff" fill-opacity="0.065"/><ellipse cx="145" cy="100" rx="10" ry="8" fill="#1400ff" fill-opacity="0.15"/></g><g filter="url(#lt)"><path d="M83.6,15.5C87.3,12.7 95.3,11.7 101.6,12.5C107.9,13.3 115.7,17.1 121.2,20.1C126.7,23.1 130.3,27.1 134.8,30.6C139.3,34.1 144.7,38.1 148.3,41.1C151.9,44.1 154.7,42.4 156.6,48.7C158.5,55.0 159.4,65.5 160.0,78.8C160.6,92.1 161.9,120.0 160.0,128.5C158.1,137.0 153.0,130.8 148.3,130.0C143.6,129.2 135.3,128.0 131.8,124.0C128.3,120.0 129.7,110.9 127.2,105.9C124.7,100.9 120.5,97.8 116.7,93.8C113.0,89.8 109.5,85.6 104.7,81.8C99.9,78.0 92.4,75.2 88.1,71.2C83.8,67.2 81.4,61.0 79.1,57.7C76.8,54.5 76.0,54.7 74.5,51.7C73.0,48.7 69.2,43.4 70.0,39.6C70.8,35.8 76.8,33.1 79.1,29.1C81.4,25.1 79.8,18.3 83.6,15.5Z" fill="#1400ff" fill-opacity="0.22"/><ellipse cx="145" cy="100" rx="11" ry="8" fill="#1400ff" fill-opacity="0.5"/></g><g filter="url(#bl)"><path d="M75.3,52.1C76.5,51.6 83.2,52.2 86.8,52.8C90.4,53.4 93.5,55.2 96.8,55.7C100.1,56.2 103.7,55.0 106.8,55.7C109.9,56.4 112.5,58.8 115.4,60.0C118.3,61.2 121.6,61.5 124.0,62.9C126.4,64.3 128.5,66.8 129.7,68.6C130.9,70.4 130.8,73.2 131.0,74.0C131.2,74.8 130.9,72.3 130.7,73.5C130.5,74.7 129.2,78.9 129.7,81.4C130.2,83.9 132.5,85.6 133.7,88.4C134.9,91.2 136.5,95.8 136.7,98.3C136.9,100.8 135.7,102.6 134.7,103.3C133.7,104.0 132.5,103.0 130.7,102.3C128.9,101.6 125.4,100.3 123.8,99.3C122.2,98.3 120.8,97.3 120.8,96.3C120.8,95.3 124.1,94.2 123.8,93.4C123.5,92.6 120.0,92.7 118.8,91.4C117.6,90.1 118.1,87.4 116.8,85.4C115.5,83.4 113.1,81.8 110.9,79.5C108.8,77.2 106.7,73.7 103.9,71.4C101.1,69.1 96.8,67.4 93.9,65.7C91.1,64.0 89.2,63.1 86.8,61.4C84.4,59.7 81.5,57.2 79.6,55.7C77.7,54.2 74.1,52.6 75.3,52.1Z" fill="#1400ff" fill-opacity="0.86"/><path d="M130.7,109.2C131.4,107.9 134.4,107.3 136.7,107.3C139.0,107.3 141.9,108.7 144.6,109.2C147.2,109.7 150.4,109.7 152.6,110.2C154.8,110.7 156.8,111.0 157.5,112.2C158.2,113.4 157.7,116.5 156.5,117.2C155.3,117.9 152.2,116.5 150.6,116.2C148.9,115.9 148.2,115.4 146.6,115.2C144.9,115.0 142.2,114.2 140.7,115.2C139.2,116.2 138.9,119.9 137.7,121.2C136.5,122.5 134.9,123.2 133.7,123.2C132.5,123.2 130.9,122.5 130.7,121.2C130.5,119.9 132.7,117.2 132.7,115.2C132.7,113.2 130.0,110.5 130.7,109.2Z" fill="#1400ff" fill-opacity="0.9"/><path d="M129.7,51.4C130.4,49.7 133.3,48.6 135.4,48.6C137.5,48.6 140.3,50.0 142.5,51.4C144.7,52.8 147.1,55.0 148.3,57.1C149.5,59.2 149.9,62.4 149.7,64.3C149.4,66.2 148.2,68.1 146.8,68.6C145.4,69.1 143.0,68.0 141.1,67.1C139.2,66.1 137.1,64.3 135.4,62.9C133.7,61.5 132.1,60.5 131.1,58.6C130.1,56.7 129.0,53.1 129.7,51.4Z" fill="#1400ff" fill-opacity="0.86"/><path d="M84.6,19.9C85.1,18.5 87.9,16.2 89.6,15.7C91.3,15.2 93.4,15.9 94.6,17.1C95.8,18.3 96.7,21.1 96.8,22.8C96.9,24.5 96.3,26.5 95.3,27.1C94.3,27.7 92.4,26.9 91.0,26.4C89.6,25.9 87.9,25.3 86.8,24.2C85.7,23.1 84.1,21.3 84.6,19.9Z" fill="#1400ff" fill-opacity="0.85"/><path d="M99.6,27.0C100.6,25.8 104.9,25.2 108.0,25.7C111.1,26.2 115.1,28.3 118.0,30.0C120.9,31.7 124.1,33.9 125.4,36.0C126.7,38.1 127.2,41.8 126.0,42.8C124.8,43.8 120.7,43.0 118.0,42.0C115.3,41.0 112.7,38.5 110.0,37.0C107.3,35.5 103.7,34.7 102.0,33.0C100.3,31.3 98.6,28.2 99.6,27.0Z" fill="#1400ff" fill-opacity="0.55"/><ellipse cx="117.5" cy="20" rx="5" ry="2" fill="#1400ff" fill-opacity="0.7" transform="rotate(10 117.5 20)"/><ellipse cx="90.3" cy="37" rx="1.8" ry="4.5" fill="#1400ff" fill-opacity="0.75" transform="rotate(-25 90.3 37)"/><ellipse cx="96.5" cy="45.7" rx="4" ry="2.5" fill="#1400ff" fill-opacity="0.75" transform="rotate(30 96.5 45.7)"/><ellipse cx="76.7" cy="39.6" rx="7" ry="2.2" fill="#1400ff" fill-opacity="0.7" transform="rotate(-12 76.7 39.6)"/><ellipse cx="126" cy="47.8" rx="2.2" ry="3.6" fill="#1400ff" fill-opacity="0.6"/><ellipse cx="154.5" cy="68.5" rx="4.5" ry="10" fill="#1400ff" fill-opacity="0.45"/><ellipse cx="149" cy="83" rx="7" ry="9" fill="#1400ff" fill-opacity="0.4"/><ellipse cx="146" cy="130" rx="5.5" ry="7" fill="#1400ff" fill-opacity="0.35"/><ellipse cx="69.5" cy="9.5" rx="2.6" ry="1.5" fill="#1400ff" fill-opacity="0.55"/><ellipse cx="104" cy="31" rx="3" ry="3" fill="#1400ff" fill-opacity="0.6"/><ellipse cx="120" cy="39" rx="4" ry="3" fill="#1400ff" fill-opacity="0.7"/></g>
<g fill="none" stroke="#bdbdbd" stroke-width="0.85" stroke-linejoin="round">
<polyline points="42.0,-1.0 42.0,0.8 43.0,2.6 43.7,4.7 42.7,6.4 40.6,7.1 39.2,8.8 39.9,10.9 41.7,12.3 42.0,14.4 43.0,16.5 44.1,18.6 44.4,20.6 45.1,22.7 46.9,23.8 48.6,24.5 49.6,23.4 50.0,21.3 48.6,20.3 47.9,21.3 48.9,22.7 51.0,23.1 52.4,23.8 53.5,24.8 55.2,25.1 56.6,25.8 56.9,27.6 56.2,29.7 55.2,31.4 53.5,32.4 52.8,33.8 53.5,35.2 54.5,35.9 55.9,36.3 55.5,35.2 54.2,34.9 53.5,36.6 52.4,38.0 52.8,39.4 53.8,40.8 53.5,42.9 51.7,45.0 50.3,46.0 48.9,45.6 47.9,44.2 46.9,43.2 45.1,43.2 44.4,44.9 44.1,47.7 43.4,49.8 42.0,51.5 40.6,51.2 39.2,49.8 37.5,48.4 36.8,47.0 37.8,45.6 39.9,45.6 41.0,47.0 41.3,49.1 40.6,51.2 39.2,52.6 38.2,54.0 39.2,55.4 39.9,56.7 39.0,57.2 36.2,57.9 35.2,59.3 36.9,60.7 38.3,61.7 36.9,62.7 34.1,62.4 32.1,63.1 32.4,64.8 34.1,66.2 35.5,68.0 34.8,69.7 33.4,70.7 32.4,72.5 31.4,75.2 32.1,76.6 33.4,78.0 34.1,80.1 32.8,80.8 30.7,79.8 29.3,80.8 30.0,82.9 31.4,84.3 30.0,85.7 27.9,86.4 25.8,87.7 23.0,87.7 21.3,89.1 20.9,91.2 22.3,93.0 24.4,92.6 25.5,93.3 24.4,94.7 22.3,95.7 20.9,96.8 22.3,98.9 23.0,100.2 21.6,99.6 20.3,97.5 18.5,98.2 17.5,100.2 18.2,102.3 16.8,103.7 14.7,103.7 13.0,104.4 12.6,106.5 14.0,107.2 15.4,105.8 16.4,104.4 15.4,107.2 14.3,108.6 13.3,110.7 13.0,112.7 13.5,113.2 15.6,114.6 17.0,116.0 15.9,117.4 14.9,118.4 16.6,118.7 17.0,120.1 15.6,120.5 14.2,119.4 12.8,119.8 12.1,121.5 11.4,123.6 9.3,124.3 7.2,124.6 6.9,126.4 8.6,127.8 10.0,129.2 9.7,130.9 7.9,132.0 6.5,133.3 4.4,134.0 2.7,134.7 2.0,132.6 1.3,131.9 0.6,134.0 0.6,136.8 1.0,139.6 0.3,142.4 -1.0,145.0"/>
<polyline points="52.4,23.6 53.5,22.0 55.2,19.2 57.3,15.8 59.5,13.3 62.4,12.2 66.1,13.3 69.0,14.8 71.9,17.0 74.8,17.7 77.4,19.1 79.2,21.0 82.1,21.0 84.0,18.8 84.3,15.5 82.9,12.9 81.0,10.7 80.7,7.8 81.8,4.2 83.6,2.6 85.8,2.7 86.9,3.8 88.3,2.4 90.2,1.4 93.1,0.9 96.0,0.5 100.4,0.2 104.0,-1.0"/>
<polyline points="-1.0,49.9 13.4,49.9 14.1,51.6 16.3,53.5 17.3,56.0 16.4,58.0 16.8,60.0 14.7,62.7 11.2,64.8 9.5,67.6 7.1,69.7 5.3,72.5 4.3,75.2 31.4,75.2"/>
<polyline points="43.6,49.3 100.1,50.2 100.5,47.2 99.4,42.9 99.1,40.4 107.4,41.1 108.1,43.2 159.0,42.1"/>
<polyline points="9.3,126.4 159.0,126.6"/>
<polyline points="93.7,126.2 95.9,128.6 97.3,131.6 95.9,146.9 93.7,168.8 91.2,197.0"/>
</g>
</g>
<rect x="0" y="0" width="158" height="196" fill="none" stroke="#000" stroke-width="0.8"/>
<path d="M19.5,196v3.5 M60.5,196v3.5 M101.6,196v3.5 M142.6,196v3.5 M0,24.6h-3.5 M0,50.1h-3.5 M0,75.6h-3.5 M0,101.1h-3.5 M0,126.6h-3.5 M0,152.1h-3.5 M0,177.6h-3.5" stroke="#000" stroke-width="0.8" fill="none"/>
<text x="19.5" y="210.5" text-anchor="middle" font-size="10.6" textLength="20.8" lengthAdjust="spacingAndGlyphs">−90</text>
<text x="60.5" y="210.5" text-anchor="middle" font-size="10.6" textLength="20.8" lengthAdjust="spacingAndGlyphs">−89</text>
<text x="101.6" y="210.5" text-anchor="middle" font-size="10.6" textLength="20.8" lengthAdjust="spacingAndGlyphs">−88</text>
<text x="142.6" y="210.5" text-anchor="middle" font-size="10.6" textLength="20.8" lengthAdjust="spacingAndGlyphs">−87</text>
<text x="-6.8" y="28.9" text-anchor="end" font-size="10.6" textLength="20.6" lengthAdjust="spacingAndGlyphs">37.0</text>
<text x="-6.8" y="54.4" text-anchor="end" font-size="10.6" textLength="20.6" lengthAdjust="spacingAndGlyphs">36.5</text>
<text x="-6.8" y="79.9" text-anchor="end" font-size="10.6" textLength="20.6" lengthAdjust="spacingAndGlyphs">36.0</text>
<text x="-6.8" y="105.4" text-anchor="end" font-size="10.6" textLength="20.6" lengthAdjust="spacingAndGlyphs">35.5</text>
<text x="-6.8" y="130.9" text-anchor="end" font-size="10.6" textLength="20.6" lengthAdjust="spacingAndGlyphs">35.0</text>
<text x="-6.8" y="156.4" text-anchor="end" font-size="10.6" textLength="20.6" lengthAdjust="spacingAndGlyphs">34.5</text>
<text x="-6.8" y="181.9" text-anchor="end" font-size="10.6" textLength="20.6" lengthAdjust="spacingAndGlyphs">34.0</text>
</g>
<g transform="translate(429.5,246.5)">
<g clip-path="url(#pc)">
<g filter="url(#sm)"><ellipse cx="125.3" cy="138.1" rx="1.0" ry="1.0" fill="#1400ff" fill-opacity="0.95"/><ellipse cx="113.3" cy="99.8" rx="0.9" ry="0.7" fill="#1400ff" fill-opacity="0.8"/><ellipse cx="54.5" cy="16.4" rx="1.0" ry="1.0" fill="#1400ff" fill-opacity="0.9"/><ellipse cx="43" cy="61.2" rx="1.0" ry="0.9" fill="#1400ff" fill-opacity="0.85"/></g><g filter="url(#hz)"><path d="M91.6,13.4C93.8,11.0 97.5,13.9 102.9,15.0C108.3,16.1 118.0,17.4 124.0,19.8C129.9,22.2 134.0,26.1 138.6,29.6C143.2,33.1 148.2,38.2 151.5,40.9C154.8,43.6 156.9,29.6 158.5,45.8C160.1,62.0 163.2,122.8 161.0,138.2C158.8,153.6 149.4,142.5 145.1,138.2C140.8,133.9 138.8,117.6 135.3,112.2C131.8,106.8 127.2,108.7 124.0,105.7C120.8,102.7 119.4,98.5 115.9,94.4C112.4,90.4 107.0,85.5 102.9,81.4C98.9,77.4 94.8,74.1 91.6,70.1C88.4,66.0 85.7,61.1 83.5,57.1C81.3,53.1 77.5,50.4 78.6,45.8C79.7,41.2 87.8,35.0 90.0,29.6C92.2,24.2 89.4,15.8 91.6,13.4Z" fill="#1400ff" fill-opacity="0.06"/><ellipse cx="146" cy="88" rx="12" ry="15" fill="#1400ff" fill-opacity="0.12"/></g><g filter="url(#lt)"><path d="M91.6,13.4C93.8,11.0 97.5,13.9 102.9,15.0C108.3,16.1 118.0,17.4 124.0,19.8C129.9,22.2 134.0,26.1 138.6,29.6C143.2,33.1 148.2,38.2 151.5,40.9C154.8,43.6 156.9,29.6 158.5,45.8C160.1,62.0 163.2,122.8 161.0,138.2C158.8,153.6 149.4,142.5 145.1,138.2C140.8,133.9 138.8,117.6 135.3,112.2C131.8,106.8 127.2,108.7 124.0,105.7C120.8,102.7 119.4,98.5 115.9,94.4C112.4,90.4 107.0,85.5 102.9,81.4C98.9,77.4 94.8,74.1 91.6,70.1C88.4,66.0 85.7,61.1 83.5,57.1C81.3,53.1 77.5,50.4 78.6,45.8C79.7,41.2 87.8,35.0 90.0,29.6C92.2,24.2 89.4,15.8 91.6,13.4Z" fill="#1400ff" fill-opacity="0.18"/><ellipse cx="146" cy="88" rx="12" ry="15" fill="#1400ff" fill-opacity="0.45"/></g><g filter="url(#bl)"><path d="M83.3,57.3C83.7,56.1 87.6,54.3 89.8,54.1C92.0,53.9 94.1,55.5 96.2,56.0C98.3,56.5 100.5,56.6 102.6,57.3C104.7,57.9 106.7,59.0 109.0,59.9C111.3,60.8 114.5,61.2 116.7,62.5C118.9,63.8 120.0,66.3 121.9,67.6C123.8,68.8 126.3,69.0 128.0,70.0C129.7,71.0 130.8,71.3 132.2,73.5C133.6,75.7 134.9,80.1 136.2,83.4C137.5,86.7 139.7,89.6 140.2,93.4C140.7,97.2 140.2,103.5 139.2,106.3C138.2,109.1 136.0,109.0 134.2,110.2C132.4,111.4 129.5,113.5 128.2,113.2C126.9,112.9 127.1,110.3 126.3,108.3C125.5,106.3 123.8,103.5 123.3,101.3C122.8,99.1 124.1,97.3 123.3,95.3C122.5,93.3 120.1,91.2 118.3,89.4C116.5,87.6 114.4,86.1 112.3,84.4C110.2,82.8 107.5,81.9 105.4,79.5C103.4,77.1 102.0,72.8 100.0,70.2C98.0,67.6 95.7,65.2 93.6,63.7C91.5,62.2 88.9,62.3 87.2,61.2C85.5,60.1 82.9,58.5 83.3,57.3Z" fill="#1400ff" fill-opacity="0.85"/><path d="M132.2,52.2C133.3,51.8 136.5,52.9 138.6,53.5C140.7,54.1 142.7,55.1 145.0,56.0C147.3,56.9 150.4,58.0 152.7,58.6C154.9,59.2 157.5,58.6 158.5,59.9C159.5,61.2 159.7,65.3 158.5,66.3C157.3,67.3 153.9,66.3 151.4,65.7C148.9,65.1 146.3,63.5 143.7,62.5C141.1,61.5 137.9,61.0 136.0,59.9C134.1,58.8 132.8,57.3 132.2,56.0C131.6,54.7 131.1,52.6 132.2,52.2Z" fill="#1400ff" fill-opacity="0.88"/><path d="M144.1,103.3C145.1,101.8 147.9,102.1 150.1,102.3C152.2,102.5 155.7,101.8 157.0,104.3C158.3,106.8 158.5,114.5 158.0,117.2C157.5,119.9 155.2,118.9 154.1,120.2C152.9,121.5 151.9,122.9 151.1,125.1C150.3,127.2 149.9,131.3 149.1,133.1C148.3,134.9 146.4,136.8 146.1,136.1C145.8,135.4 146.6,131.8 147.1,129.1C147.6,126.4 149.3,122.5 149.1,120.2C148.9,117.9 146.9,115.4 146.1,115.2C145.3,115.0 144.8,117.6 144.1,119.2C143.4,120.8 142.9,122.8 142.1,125.1C141.3,127.4 140.0,131.4 139.2,133.1C138.4,134.8 137.4,136.1 137.2,135.1C137.0,134.1 137.5,129.9 138.2,127.1C138.8,124.3 140.1,120.8 141.1,118.2C142.1,115.6 143.6,113.7 144.1,111.2C144.6,108.7 143.1,104.8 144.1,103.3Z" fill="#1400ff" fill-opacity="0.84"/><path d="M93.6,18.8C94.3,17.3 96.7,17.5 98.0,18.0C99.3,18.5 100.7,19.7 101.3,22.0C101.9,24.3 102.0,29.9 101.5,31.6C101.0,33.3 99.2,32.8 98.0,32.0C96.8,31.2 94.7,29.2 94.0,27.0C93.3,24.8 92.9,20.3 93.6,18.8Z" fill="#1400ff" fill-opacity="0.85"/><path d="M96.2,31.6C97.5,30.9 102.0,30.6 105.0,31.0C108.0,31.4 111.2,33.1 114.0,34.0C116.8,34.9 120.7,35.4 121.9,36.5C123.1,37.6 122.7,40.0 121.0,40.6C119.3,41.2 115.0,40.6 112.0,40.0C109.0,39.4 105.5,37.8 103.0,37.0C100.5,36.2 98.1,35.9 97.0,35.0C95.9,34.1 94.9,32.3 96.2,31.6Z" fill="#1400ff" fill-opacity="0.65"/><path d="M75.6,42.0C76.3,41.3 79.9,41.4 82.0,41.3C84.1,41.2 86.1,41.1 88.0,41.5C89.9,41.9 92.9,42.6 93.6,43.5C94.3,44.4 93.4,46.5 92.0,47.0C90.6,47.5 87.3,47.0 85.0,46.8C82.7,46.5 79.6,46.3 78.0,45.5C76.4,44.7 74.9,42.7 75.6,42.0Z" fill="#1400ff" fill-opacity="0.8"/><path d="M103.9,40.6C106.2,39.4 113.7,39.8 118.0,41.0C122.3,42.2 127.6,44.9 130.0,48.0C132.4,51.1 133.5,57.6 132.2,59.9C130.9,62.2 125.7,62.6 122.0,62.0C118.3,61.4 113.0,58.3 110.0,56.0C107.0,53.7 105.0,50.6 104.0,48.0C103.0,45.4 101.6,41.8 103.9,40.6Z" fill="#1400ff" fill-opacity="0.45"/><ellipse cx="120.6" cy="22" rx="4" ry="3.2" fill="#1400ff" fill-opacity="0.55"/><ellipse cx="100.7" cy="44.2" rx="3.2" ry="2.8" fill="#1400ff" fill-opacity="0.6"/><ellipse cx="150" cy="85" rx="6" ry="12" fill="#1400ff" fill-opacity="0.4"/><ellipse cx="140" cy="30" rx="5" ry="6" fill="#1400ff" fill-opacity="0.18"/><ellipse cx="150" cy="45" rx="6" ry="4" fill="#1400ff" fill-opacity="0.25"/></g>
<g fill="none" stroke="#bdbdbd" stroke-width="0.85" stroke-linejoin="round">
<polyline points="42.0,-1.0 42.0,0.8 43.0,2.6 43.7,4.7 42.7,6.4 40.6,7.1 39.2,8.8 39.9,10.9 41.7,12.3 42.0,14.4 43.0,16.5 44.1,18.6 44.4,20.6 45.1,22.7 46.9,23.8 48.6,24.5 49.6,23.4 50.0,21.3 48.6,20.3 47.9,21.3 48.9,22.7 51.0,23.1 52.4,23.8 53.5,24.8 55.2,25.1 56.6,25.8 56.9,27.6 56.2,29.7 55.2,31.4 53.5,32.4 52.8,33.8 53.5,35.2 54.5,35.9 55.9,36.3 55.5,35.2 54.2,34.9 53.5,36.6 52.4,38.0 52.8,39.4 53.8,40.8 53.5,42.9 51.7,45.0 50.3,46.0 48.9,45.6 47.9,44.2 46.9,43.2 45.1,43.2 44.4,44.9 44.1,47.7 43.4,49.8 42.0,51.5 40.6,51.2 39.2,49.8 37.5,48.4 36.8,47.0 37.8,45.6 39.9,45.6 41.0,47.0 41.3,49.1 40.6,51.2 39.2,52.6 38.2,54.0 39.2,55.4 39.9,56.7 39.0,57.2 36.2,57.9 35.2,59.3 36.9,60.7 38.3,61.7 36.9,62.7 34.1,62.4 32.1,63.1 32.4,64.8 34.1,66.2 35.5,68.0 34.8,69.7 33.4,70.7 32.4,72.5 31.4,75.2 32.1,76.6 33.4,78.0 34.1,80.1 32.8,80.8 30.7,79.8 29.3,80.8 30.0,82.9 31.4,84.3 30.0,85.7 27.9,86.4 25.8,87.7 23.0,87.7 21.3,89.1 20.9,91.2 22.3,93.0 24.4,92.6 25.5,93.3 24.4,94.7 22.3,95.7 20.9,96.8 22.3,98.9 23.0,100.2 21.6,99.6 20.3,97.5 18.5,98.2 17.5,100.2 18.2,102.3 16.8,103.7 14.7,103.7 13.0,104.4 12.6,106.5 14.0,107.2 15.4,105.8 16.4,104.4 15.4,107.2 14.3,108.6 13.3,110.7 13.0,112.7 13.5,113.2 15.6,114.6 17.0,116.0 15.9,117.4 14.9,118.4 16.6,118.7 17.0,120.1 15.6,120.5 14.2,119.4 12.8,119.8 12.1,121.5 11.4,123.6 9.3,124.3 7.2,124.6 6.9,126.4 8.6,127.8 10.0,129.2 9.7,130.9 7.9,132.0 6.5,133.3 4.4,134.0 2.7,134.7 2.0,132.6 1.3,131.9 0.6,134.0 0.6,136.8 1.0,139.6 0.3,142.4 -1.0,145.0"/>
<polyline points="52.4,23.6 53.5,22.0 55.2,19.2 57.3,15.8 59.5,13.3 62.4,12.2 66.1,13.3 69.0,14.8 71.9,17.0 74.8,17.7 77.4,19.1 79.2,21.0 82.1,21.0 84.0,18.8 84.3,15.5 82.9,12.9 81.0,10.7 80.7,7.8 81.8,4.2 83.6,2.6 85.8,2.7 86.9,3.8 88.3,2.4 90.2,1.4 93.1,0.9 96.0,0.5 100.4,0.2 104.0,-1.0"/>
<polyline points="-1.0,49.9 13.4,49.9 14.1,51.6 16.3,53.5 17.3,56.0 16.4,58.0 16.8,60.0 14.7,62.7 11.2,64.8 9.5,67.6 7.1,69.7 5.3,72.5 4.3,75.2 31.4,75.2"/>
<polyline points="43.6,49.3 100.1,50.2 100.5,47.2 99.4,42.9 99.1,40.4 107.4,41.1 108.1,43.2 159.0,42.1"/>
<polyline points="9.3,126.4 159.0,126.6"/>
<polyline points="93.7,126.2 95.9,128.6 97.3,131.6 95.9,146.9 93.7,168.8 91.2,197.0"/>
</g>
</g>
<rect x="0" y="0" width="158" height="196" fill="none" stroke="#000" stroke-width="0.8"/>
<path d="M20.0,196v3.5 M61.0,196v3.5 M102.1,196v3.5 M143.1,196v3.5 M0,24.6h-3.5 M0,50.1h-3.5 M0,75.6h-3.5 M0,101.1h-3.5 M0,126.6h-3.5 M0,152.1h-3.5 M0,177.6h-3.5" stroke="#000" stroke-width="0.8" fill="none"/>
<text x="20.0" y="210.5" text-anchor="middle" font-size="10.6" textLength="20.8" lengthAdjust="spacingAndGlyphs">−90</text>
<text x="61.0" y="210.5" text-anchor="middle" font-size="10.6" textLength="20.8" lengthAdjust="spacingAndGlyphs">−89</text>
<text x="102.1" y="210.5" text-anchor="middle" font-size="10.6" textLength="20.8" lengthAdjust="spacingAndGlyphs">−88</text>
<text x="143.1" y="210.5" text-anchor="middle" font-size="10.6" textLength="20.8" lengthAdjust="spacingAndGlyphs">−87</text>
<text x="-6.8" y="28.9" text-anchor="end" font-size="10.6" textLength="20.6" lengthAdjust="spacingAndGlyphs">37.0</text>
<text x="-6.8" y="54.4" text-anchor="end" font-size="10.6" textLength="20.6" lengthAdjust="spacingAndGlyphs">36.5</text>
<text x="-6.8" y="79.9" text-anchor="end" font-size="10.6" textLength="20.6" lengthAdjust="spacingAndGlyphs">36.0</text>
<text x="-6.8" y="105.4" text-anchor="end" font-size="10.6" textLength="20.6" lengthAdjust="spacingAndGlyphs">35.5</text>
<text x="-6.8" y="130.9" text-anchor="end" font-size="10.6" textLength="20.6" lengthAdjust="spacingAndGlyphs">35.0</text>
<text x="-6.8" y="156.4" text-anchor="end" font-size="10.6" textLength="20.6" lengthAdjust="spacingAndGlyphs">34.5</text>
<text x="-6.8" y="181.9" text-anchor="end" font-size="10.6" textLength="20.6" lengthAdjust="spacingAndGlyphs">34.0</text>
</g>
<g transform="translate(48.5,472.4)">
<g clip-path="url(#pc)">

<g fill="none" stroke="#bdbdbd" stroke-width="0.85" stroke-linejoin="round">
<polyline points="42.0,-1.0 42.0,0.8 43.0,2.6 43.7,4.7 42.7,6.4 40.6,7.1 39.2,8.8 39.9,10.9 41.7,12.3 42.0,14.4 43.0,16.5 44.1,18.6 44.4,20.6 45.1,22.7 46.9,23.8 48.6,24.5 49.6,23.4 50.0,21.3 48.6,20.3 47.9,21.3 48.9,22.7 51.0,23.1 52.4,23.8 53.5,24.8 55.2,25.1 56.6,25.8 56.9,27.6 56.2,29.7 55.2,31.4 53.5,32.4 52.8,33.8 53.5,35.2 54.5,35.9 55.9,36.3 55.5,35.2 54.2,34.9 53.5,36.6 52.4,38.0 52.8,39.4 53.8,40.8 53.5,42.9 51.7,45.0 50.3,46.0 48.9,45.6 47.9,44.2 46.9,43.2 45.1,43.2 44.4,44.9 44.1,47.7 43.4,49.8 42.0,51.5 40.6,51.2 39.2,49.8 37.5,48.4 36.8,47.0 37.8,45.6 39.9,45.6 41.0,47.0 41.3,49.1 40.6,51.2 39.2,52.6 38.2,54.0 39.2,55.4 39.9,56.7 39.0,57.2 36.2,57.9 35.2,59.3 36.9,60.7 38.3,61.7 36.9,62.7 34.1,62.4 32.1,63.1 32.4,64.8 34.1,66.2 35.5,68.0 34.8,69.7 33.4,70.7 32.4,72.5 31.4,75.2 32.1,76.6 33.4,78.0 34.1,80.1 32.8,80.8 30.7,79.8 29.3,80.8 30.0,82.9 31.4,84.3 30.0,85.7 27.9,86.4 25.8,87.7 23.0,87.7 21.3,89.1 20.9,91.2 22.3,93.0 24.4,92.6 25.5,93.3 24.4,94.7 22.3,95.7 20.9,96.8 22.3,98.9 23.0,100.2 21.6,99.6 20.3,97.5 18.5,98.2 17.5,100.2 18.2,102.3 16.8,103.7 14.7,103.7 13.0,104.4 12.6,106.5 14.0,107.2 15.4,105.8 16.4,104.4 15.4,107.2 14.3,108.6 13.3,110.7 13.0,112.7 13.5,113.2 15.6,114.6 17.0,116.0 15.9,117.4 14.9,118.4 16.6,118.7 17.0,120.1 15.6,120.5 14.2,119.4 12.8,119.8 12.1,121.5 11.4,123.6 9.3,124.3 7.2,124.6 6.9,126.4 8.6,127.8 10.0,129.2 9.7,130.9 7.9,132.0 6.5,133.3 4.4,134.0 2.7,134.7 2.0,132.6 1.3,131.9 0.6,134.0 0.6,136.8 1.0,139.6 0.3,142.4 -1.0,145.0"/>
<polyline points="52.4,23.6 53.5,22.0 55.2,19.2 57.3,15.8 59.5,13.3 62.4,12.2 66.1,13.3 69.0,14.8 71.9,17.0 74.8,17.7 77.4,19.1 79.2,21.0 82.1,21.0 84.0,18.8 84.3,15.5 82.9,12.9 81.0,10.7 80.7,7.8 81.8,4.2 83.6,2.6 85.8,2.7 86.9,3.8 88.3,2.4 90.2,1.4 93.1,0.9 96.0,0.5 100.4,0.2 104.0,-1.0"/>
<polyline points="-1.0,49.9 13.4,49.9 14.1,51.6 16.3,53.5 17.3,56.0 16.4,58.0 16.8,60.0 14.7,62.7 11.2,64.8 9.5,67.6 7.1,69.7 5.3,72.5 4.3,75.2 31.4,75.2"/>
<polyline points="43.6,49.3 100.1,50.2 100.5,47.2 99.4,42.9 99.1,40.4 107.4,41.1 108.1,43.2 159.0,42.1"/>
<polyline points="9.3,126.4 159.0,126.6"/>
<polyline points="93.7,126.2 95.9,128.6 97.3,131.6 95.9,146.9 93.7,168.8 91.2,197.0"/>
</g>
</g>
<rect x="0" y="0" width="158" height="196" fill="none" stroke="#000" stroke-width="0.8"/>
<path d="M19.9,196v3.5 M60.9,196v3.5 M102.0,196v3.5 M143.0,196v3.5 M0,24.1h-3.5 M0,49.6h-3.5 M0,75.1h-3.5 M0,100.6h-3.5 M0,126.1h-3.5 M0,151.6h-3.5 M0,177.1h-3.5" stroke="#000" stroke-width="0.8" fill="none"/>
<text x="19.9" y="210.5" text-anchor="middle" font-size="10.6" textLength="20.8" lengthAdjust="spacingAndGlyphs">−90</text>
<text x="60.9" y="210.5" text-anchor="middle" font-size="10.6" textLength="20.8" lengthAdjust="spacingAndGlyphs">−89</text>
<text x="102.0" y="210.5" text-anchor="middle" font-size="10.6" textLength="20.8" lengthAdjust="spacingAndGlyphs">−88</text>
<text x="143.0" y="210.5" text-anchor="middle" font-size="10.6" textLength="20.8" lengthAdjust="spacingAndGlyphs">−87</text>
<text x="-6.8" y="28.4" text-anchor="end" font-size="10.6" textLength="20.6" lengthAdjust="spacingAndGlyphs">37.0</text>
<text x="-6.8" y="53.9" text-anchor="end" font-size="10.6" textLength="20.6" lengthAdjust="spacingAndGlyphs">36.5</text>
<text x="-6.8" y="79.4" text-anchor="end" font-size="10.6" textLength="20.6" lengthAdjust="spacingAndGlyphs">36.0</text>
<text x="-6.8" y="104.9" text-anchor="end" font-size="10.6" textLength="20.6" lengthAdjust="spacingAndGlyphs">35.5</text>
<text x="-6.8" y="130.4" text-anchor="end" font-size="10.6" textLength="20.6" lengthAdjust="spacingAndGlyphs">35.0</text>
<text x="-6.8" y="155.9" text-anchor="end" font-size="10.6" textLength="20.6" lengthAdjust="spacingAndGlyphs">34.5</text>
<text x="-6.8" y="181.4" text-anchor="end" font-size="10.6" textLength="20.6" lengthAdjust="spacingAndGlyphs">34.0</text>
</g>
<g transform="translate(239.0,472.4)">
<g clip-path="url(#pc)">

<g fill="none" stroke="#bdbdbd" stroke-width="0.85" stroke-linejoin="round">
<polyline points="42.0,-1.0 42.0,0.8 43.0,2.6 43.7,4.7 42.7,6.4 40.6,7.1 39.2,8.8 39.9,10.9 41.7,12.3 42.0,14.4 43.0,16.5 44.1,18.6 44.4,20.6 45.1,22.7 46.9,23.8 48.6,24.5 49.6,23.4 50.0,21.3 48.6,20.3 47.9,21.3 48.9,22.7 51.0,23.1 52.4,23.8 53.5,24.8 55.2,25.1 56.6,25.8 56.9,27.6 56.2,29.7 55.2,31.4 53.5,32.4 52.8,33.8 53.5,35.2 54.5,35.9 55.9,36.3 55.5,35.2 54.2,34.9 53.5,36.6 52.4,38.0 52.8,39.4 53.8,40.8 53.5,42.9 51.7,45.0 50.3,46.0 48.9,45.6 47.9,44.2 46.9,43.2 45.1,43.2 44.4,44.9 44.1,47.7 43.4,49.8 42.0,51.5 40.6,51.2 39.2,49.8 37.5,48.4 36.8,47.0 37.8,45.6 39.9,45.6 41.0,47.0 41.3,49.1 40.6,51.2 39.2,52.6 38.2,54.0 39.2,55.4 39.9,56.7 39.0,57.2 36.2,57.9 35.2,59.3 36.9,60.7 38.3,61.7 36.9,62.7 34.1,62.4 32.1,63.1 32.4,64.8 34.1,66.2 35.5,68.0 34.8,69.7 33.4,70.7 32.4,72.5 31.4,75.2 32.1,76.6 33.4,78.0 34.1,80.1 32.8,80.8 30.7,79.8 29.3,80.8 30.0,82.9 31.4,84.3 30.0,85.7 27.9,86.4 25.8,87.7 23.0,87.7 21.3,89.1 20.9,91.2 22.3,93.0 24.4,92.6 25.5,93.3 24.4,94.7 22.3,95.7 20.9,96.8 22.3,98.9 23.0,100.2 21.6,99.6 20.3,97.5 18.5,98.2 17.5,100.2 18.2,102.3 16.8,103.7 14.7,103.7 13.0,104.4 12.6,106.5 14.0,107.2 15.4,105.8 16.4,104.4 15.4,107.2 14.3,108.6 13.3,110.7 13.0,112.7 13.5,113.2 15.6,114.6 17.0,116.0 15.9,117.4 14.9,118.4 16.6,118.7 17.0,120.1 15.6,120.5 14.2,119.4 12.8,119.8 12.1,121.5 11.4,123.6 9.3,124.3 7.2,124.6 6.9,126.4 8.6,127.8 10.0,129.2 9.7,130.9 7.9,132.0 6.5,133.3 4.4,134.0 2.7,134.7 2.0,132.6 1.3,131.9 0.6,134.0 0.6,136.8 1.0,139.6 0.3,142.4 -1.0,145.0"/>
<polyline points="52.4,23.6 53.5,22.0 55.2,19.2 57.3,15.8 59.5,13.3 62.4,12.2 66.1,13.3 69.0,14.8 71.9,17.0 74.8,17.7 77.4,19.1 79.2,21.0 82.1,21.0 84.0,18.8 84.3,15.5 82.9,12.9 81.0,10.7 80.7,7.8 81.8,4.2 83.6,2.6 85.8,2.7 86.9,3.8 88.3,2.4 90.2,1.4 93.1,0.9 96.0,0.5 100.4,0.2 104.0,-1.0"/>
<polyline points="-1.0,49.9 13.4,49.9 14.1,51.6 16.3,53.5 17.3,56.0 16.4,58.0 16.8,60.0 14.7,62.7 11.2,64.8 9.5,67.6 7.1,69.7 5.3,72.5 4.3,75.2 31.4,75.2"/>
<polyline points="43.6,49.3 100.1,50.2 100.5,47.2 99.4,42.9 99.1,40.4 107.4,41.1 108.1,43.2 159.0,42.1"/>
<polyline points="9.3,126.4 159.0,126.6"/>
<polyline points="93.7,126.2 95.9,128.6 97.3,131.6 95.9,146.9 93.7,168.8 91.2,197.0"/>
</g>
</g>
<rect x="0" y="0" width="158" height="196" fill="none" stroke="#000" stroke-width="0.8"/>
<path d="M19.5,196v3.5 M60.5,196v3.5 M101.6,196v3.5 M142.6,196v3.5 M0,24.1h-3.5 M0,49.6h-3.5 M0,75.1h-3.5 M0,100.6h-3.5 M0,126.1h-3.5 M0,151.6h-3.5 M0,177.1h-3.5" stroke="#000" stroke-width="0.8" fill="none"/>
<text x="19.5" y="210.5" text-anchor="middle" font-size="10.6" textLength="20.8" lengthAdjust="spacingAndGlyphs">−90</text>
<text x="60.5" y="210.5" text-anchor="middle" font-size="10.6" textLength="20.8" lengthAdjust="spacingAndGlyphs">−89</text>
<text x="101.6" y="210.5" text-anchor="middle" font-size="10.6" textLength="20.8" lengthAdjust="spacingAndGlyphs">−88</text>
<text x="142.6" y="210.5" text-anchor="middle" font-size="10.6" textLength="20.8" lengthAdjust="spacingAndGlyphs">−87</text>
<text x="-6.8" y="28.4" text-anchor="end" font-size="10.6" textLength="20.6" lengthAdjust="spacingAndGlyphs">37.0</text>
<text x="-6.8" y="53.9" text-anchor="end" font-size="10.6" textLength="20.6" lengthAdjust="spacingAndGlyphs">36.5</text>
<text x="-6.8" y="79.4" text-anchor="end" font-size="10.6" textLength="20.6" lengthAdjust="spacingAndGlyphs">36.0</text>
<text x="-6.8" y="104.9" text-anchor="end" font-size="10.6" textLength="20.6" lengthAdjust="spacingAndGlyphs">35.5</text>
<text x="-6.8" y="130.4" text-anchor="end" font-size="10.6" textLength="20.6" lengthAdjust="spacingAndGlyphs">35.0</text>
<text x="-6.8" y="155.9" text-anchor="end" font-size="10.6" textLength="20.6" lengthAdjust="spacingAndGlyphs">34.5</text>
<text x="-6.8" y="181.4" text-anchor="end" font-size="10.6" textLength="20.6" lengthAdjust="spacingAndGlyphs">34.0</text>
</g>
<g transform="translate(429.5,472.4)">
<g clip-path="url(#pc)">
<g filter="url(#sm)"><ellipse cx="16.8" cy="187" rx="1.5" ry="2.3" fill="#1400ff" fill-opacity="1.0"/><ellipse cx="17.2" cy="179.3" rx="1.3" ry="1.1" fill="#1400ff" fill-opacity="0.8"/><ellipse cx="22.6" cy="187.7" rx="1.0" ry="0.8" fill="#1400ff" fill-opacity="0.45"/><ellipse cx="27.3" cy="191.4" rx="0.9" ry="0.5" fill="#1400ff" fill-opacity="0.3"/><ellipse cx="13.5" cy="174.8" rx="0.8" ry="0.8" fill="#1400ff" fill-opacity="0.1"/></g><g filter="url(#bl)"></g>
<g fill="none" stroke="#bdbdbd" stroke-width="0.85" stroke-linejoin="round">
<polyline points="42.0,-1.0 42.0,0.8 43.0,2.6 43.7,4.7 42.7,6.4 40.6,7.1 39.2,8.8 39.9,10.9 41.7,12.3 42.0,14.4 43.0,16.5 44.1,18.6 44.4,20.6 45.1,22.7 46.9,23.8 48.6,24.5 49.6,23.4 50.0,21.3 48.6,20.3 47.9,21.3 48.9,22.7 51.0,23.1 52.4,23.8 53.5,24.8 55.2,25.1 56.6,25.8 56.9,27.6 56.2,29.7 55.2,31.4 53.5,32.4 52.8,33.8 53.5,35.2 54.5,35.9 55.9,36.3 55.5,35.2 54.2,34.9 53.5,36.6 52.4,38.0 52.8,39.4 53.8,40.8 53.5,42.9 51.7,45.0 50.3,46.0 48.9,45.6 47.9,44.2 46.9,43.2 45.1,43.2 44.4,44.9 44.1,47.7 43.4,49.8 42.0,51.5 40.6,51.2 39.2,49.8 37.5,48.4 36.8,47.0 37.8,45.6 39.9,45.6 41.0,47.0 41.3,49.1 40.6,51.2 39.2,52.6 38.2,54.0 39.2,55.4 39.9,56.7 39.0,57.2 36.2,57.9 35.2,59.3 36.9,60.7 38.3,61.7 36.9,62.7 34.1,62.4 32.1,63.1 32.4,64.8 34.1,66.2 35.5,68.0 34.8,69.7 33.4,70.7 32.4,72.5 31.4,75.2 32.1,76.6 33.4,78.0 34.1,80.1 32.8,80.8 30.7,79.8 29.3,80.8 30.0,82.9 31.4,84.3 30.0,85.7 27.9,86.4 25.8,87.7 23.0,87.7 21.3,89.1 20.9,91.2 22.3,93.0 24.4,92.6 25.5,93.3 24.4,94.7 22.3,95.7 20.9,96.8 22.3,98.9 23.0,100.2 21.6,99.6 20.3,97.5 18.5,98.2 17.5,100.2 18.2,102.3 16.8,103.7 14.7,103.7 13.0,104.4 12.6,106.5 14.0,107.2 15.4,105.8 16.4,104.4 15.4,107.2 14.3,108.6 13.3,110.7 13.0,112.7 13.5,113.2 15.6,114.6 17.0,116.0 15.9,117.4 14.9,118.4 16.6,118.7 17.0,120.1 15.6,120.5 14.2,119.4 12.8,119.8 12.1,121.5 11.4,123.6 9.3,124.3 7.2,124.6 6.9,126.4 8.6,127.8 10.0,129.2 9.7,130.9 7.9,132.0 6.5,133.3 4.4,134.0 2.7,134.7 2.0,132.6 1.3,131.9 0.6,134.0 0.6,136.8 1.0,139.6 0.3,142.4 -1.0,145.0"/>
<polyline points="52.4,23.6 53.5,22.0 55.2,19.2 57.3,15.8 59.5,13.3 62.4,12.2 66.1,13.3 69.0,14.8 71.9,17.0 74.8,17.7 77.4,19.1 79.2,21.0 82.1,21.0 84.0,18.8 84.3,15.5 82.9,12.9 81.0,10.7 80.7,7.8 81.8,4.2 83.6,2.6 85.8,2.7 86.9,3.8 88.3,2.4 90.2,1.4 93.1,0.9 96.0,0.5 100.4,0.2 104.0,-1.0"/>
<polyline points="-1.0,49.9 13.4,49.9 14.1,51.6 16.3,53.5 17.3,56.0 16.4,58.0 16.8,60.0 14.7,62.7 11.2,64.8 9.5,67.6 7.1,69.7 5.3,72.5 4.3,75.2 31.4,75.2"/>
<polyline points="43.6,49.3 100.1,50.2 100.5,47.2 99.4,42.9 99.1,40.4 107.4,41.1 108.1,43.2 159.0,42.1"/>
<polyline points="9.3,126.4 159.0,126.6"/>
<polyline points="93.7,126.2 95.9,128.6 97.3,131.6 95.9,146.9 93.7,168.8 91.2,197.0"/>
</g>
</g>
<rect x="0" y="0" width="158" height="196" fill="none" stroke="#000" stroke-width="0.8"/>
<path d="M20.0,196v3.5 M61.0,196v3.5 M102.1,196v3.5 M143.1,196v3.5 M0,24.1h-3.5 M0,49.6h-3.5 M0,75.1h-3.5 M0,100.6h-3.5 M0,126.1h-3.5 M0,151.6h-3.5 M0,177.1h-3.5" stroke="#000" stroke-width="0.8" fill="none"/>
<text x="20.0" y="210.5" text-anchor="middle" font-size="10.6" textLength="20.8" lengthAdjust="spacingAndGlyphs">−90</text>
<text x="61.0" y="210.5" text-anchor="middle" font-size="10.6" textLength="20.8" lengthAdjust="spacingAndGlyphs">−89</text>
<text x="102.1" y="210.5" text-anchor="middle" font-size="10.6" textLength="20.8" lengthAdjust="spacingAndGlyphs">−88</text>
<text x="143.1" y="210.5" text-anchor="middle" font-size="10.6" textLength="20.8" lengthAdjust="spacingAndGlyphs">−87</text>
<text x="-6.8" y="28.4" text-anchor="end" font-size="10.6" textLength="20.6" lengthAdjust="spacingAndGlyphs">37.0</text>
<text x="-6.8" y="53.9" text-anchor="end" font-size="10.6" textLength="20.6" lengthAdjust="spacingAndGlyphs">36.5</text>
<text x="-6.8" y="79.4" text-anchor="end" font-size="10.6" textLength="20.6" lengthAdjust="spacingAndGlyphs">36.0</text>
<text x="-6.8" y="104.9" text-anchor="end" font-size="10.6" textLength="20.6" lengthAdjust="spacingAndGlyphs">35.5</text>
<text x="-6.8" y="130.4" text-anchor="end" font-size="10.6" textLength="20.6" lengthAdjust="spacingAndGlyphs">35.0</text>
<text x="-6.8" y="155.9" text-anchor="end" font-size="10.6" textLength="20.6" lengthAdjust="spacingAndGlyphs">34.5</text>
<text x="-6.8" y="181.4" text-anchor="end" font-size="10.6" textLength="20.6" lengthAdjust="spacingAndGlyphs">34.0</text>
</g>
<rect x="51.3" y="695.6" width="156.5" height="145.0" fill="#fff" stroke="#9a9a9a" stroke-width="1"/>
<polyline points="58.2,702.8 60.0,702.9 61.7,703.0 63.5,703.1 65.2,703.3 67.0,703.4 68.7,703.5 70.6,703.6 72.4,703.7 74.3,703.8 76.1,703.9 78.0,704.0 79.9,704.1 81.8,704.3 83.6,704.4 85.5,704.6 87.4,704.7 89.2,705.1 90.9,705.5 92.7,706.0 94.4,706.4 96.2,706.7 97.9,707.0 99.7,707.2 101.4,707.5 103.2,707.9 104.9,708.4 106.7,708.8 108.4,709.2 110.2,709.2 111.9,709.2 113.7,709.2 115.4,709.2 117.8,709.9 120.1,710.6 122.4,711.5 124.8,713.0 126.7,713.3 128.7,713.4 130.6,712.9 132.3,714.0 134.1,714.2 136.4,715.2 138.8,717.9 141.1,719.2 143.4,718.0 145.8,720.7 148.1,720.7 150.4,720.4 152.8,720.5 155.2,722.4 157.5,722.6 159.2,723.8 161.0,724.3 162.8,723.5 164.5,725.7 166.2,726.9 168.0,727.4 169.8,727.1 171.5,726.2 173.2,726.7 175.0,727.6 176.8,730.3 178.5,729.2 180.2,729.9 182.0,731.9 183.8,730.9 185.5,732.1 187.8,732.4 190.2,732.1 192.5,733.4 194.8,734.1 196.8,732.5 198.7,732.8 200.7,733.7" fill="none" stroke="#000" stroke-width="1.1" stroke-linejoin="round"/>
<polyline points="58.2,702.4 60.0,702.7 61.7,702.9 63.5,703.2 65.2,703.5 67.0,703.7 68.7,704.0 70.6,704.4 72.4,704.8 74.3,705.1 76.1,705.5 78.0,705.9 79.9,706.4 81.8,706.8 83.6,707.3 85.5,707.7 87.4,708.2 89.0,708.9 90.6,709.6 92.3,710.3 93.9,711.0 95.5,711.7 97.1,711.7 98.8,711.6 100.4,711.6 102.1,711.5 103.7,711.5 105.6,711.7 107.5,712.0 109.3,712.2 111.2,712.5 113.1,712.7 115.4,714.0 117.7,715.2 120.1,717.3 122.4,719.5 124.2,719.0 125.9,719.3 127.7,719.7 129.4,719.7 131.2,719.7 132.9,719.5 134.7,720.2 136.4,721.8 138.8,720.1 141.1,720.7 143.4,723.9 145.8,723.2 148.1,723.1 150.4,722.8 152.8,723.8 155.2,722.9 157.5,723.7 159.8,724.8 162.1,725.8 164.4,725.6 166.8,725.1 169.2,727.2 171.5,726.6 173.2,727.2 175.0,727.9 176.8,729.7 178.5,729.1 180.2,730.8 182.0,730.0 183.8,730.4 185.5,730.8 187.2,733.3 189.0,734.5 190.8,733.6 192.5,734.4 194.1,734.5 195.8,736.8 197.4,736.6 199.1,736.8 200.7,738.4" fill="none" stroke="#0000ff" stroke-width="1.1" stroke-linejoin="round"/>
<polyline points="83.2,834.2 96.7,830.7 110.7,827.2 124.7,824.2 138.8,820.9 152.8,817.9 162.1,816.3 171.5,815.5 180.8,815.1 190.2,815.8 200.7,816.7" fill="none" stroke="#ff0000" stroke-width="1.1" stroke-linejoin="round"/>
<text x="47.0" y="708.1" text-anchor="end" font-size="7"><tspan>10</tspan><tspan font-size="5" dy="-3">11</tspan></text>
<text x="47.0" y="735.9" text-anchor="end" font-size="7"><tspan>10</tspan><tspan font-size="5" dy="-3">9</tspan></text>
<text x="47.0" y="763.7" text-anchor="end" font-size="7"><tspan>10</tspan><tspan font-size="5" dy="-3">7</tspan></text>
<text x="47.0" y="791.5" text-anchor="end" font-size="7"><tspan>10</tspan><tspan font-size="5" dy="-3">5</tspan></text>
<text x="47.0" y="819.3" text-anchor="end" font-size="7"><tspan>10</tspan><tspan font-size="5" dy="-3">3</tspan></text>
<text x="68.7" y="850.8" text-anchor="middle" font-size="7">256</text>
<text x="87.5" y="850.8" text-anchor="middle" font-size="7">128</text>
<text x="106.4" y="850.8" text-anchor="middle" font-size="7">64</text>
<text x="125.3" y="850.8" text-anchor="middle" font-size="7">32</text>
<text x="144.1" y="850.8" text-anchor="middle" font-size="7">16</text>
<text x="163.0" y="850.8" text-anchor="middle" font-size="7">8</text>
<text x="181.8" y="850.8" text-anchor="middle" font-size="7">4</text>
<text x="200.7" y="850.8" text-anchor="middle" font-size="7">2</text>
<path d="M51.3,705.5h-2.5 M51.3,733.3h-2.5 M51.3,761.1h-2.5 M51.3,788.9h-2.5 M51.3,816.7h-2.5 M200.7,840.6v1.6 M189.7,840.6v1.6 M181.8,840.6v1.6 M175.8,840.6v1.6 M170.8,840.6v1.6 M166.6,840.6v1.6 M163.0,840.6v1.6 M159.8,840.6v1.6 M138.0,840.6v1.6 M127.0,840.6v1.6 M119.2,840.6v1.6 M113.1,840.6v1.6 M108.2,840.6v1.6 M104.0,840.6v1.6 M100.3,840.6v1.6 M97.1,840.6v1.6 M75.4,840.6v1.6 M64.4,840.6v1.6 M56.5,840.6v1.6 M68.7,840.6v2.5 M87.5,840.6v2.5 M106.4,840.6v2.5 M125.3,840.6v2.5 M144.1,840.6v2.5 M163.0,840.6v2.5 M181.8,840.6v2.5 M200.7,840.6v2.5" stroke="#555" stroke-width="0.7" fill="none"/>
<text x="129.6" y="860.6" text-anchor="middle" font-size="10" textLength="74.5" lengthAdjust="spacingAndGlyphs">Wavelength (km)</text>
<text transform="translate(31.1,768.3) rotate(-90)" text-anchor="middle" font-size="9.8" textLength="96.5" lengthAdjust="spacingAndGlyphs">Information Content</text>
<rect x="132.2" y="749.1" width="72" height="37.8" rx="1.5" fill="#fff" fill-opacity="0.8" stroke="#d6d6d6" stroke-width="0.8"/>
<path d="M134.8,755.5h15.6" stroke="#000" stroke-width="1.1"/>
<text x="156.2" y="758.5" font-size="8.8" textLength="23.2" lengthAdjust="spacingAndGlyphs">MRMS</text>
<path d="M134.8,767.5h15.6" stroke="#0000ff" stroke-width="1.1"/>
<text x="156.2" y="770.5" font-size="8.8" textLength="45.0" lengthAdjust="spacingAndGlyphs">NowcastNet</text>
<path d="M134.8,779.5h15.6" stroke="#ff0000" stroke-width="1.1"/>
<text x="156.2" y="782.5" font-size="8.8" textLength="21.2" lengthAdjust="spacingAndGlyphs">HRRR</text>
<rect x="241.4" y="695.6" width="156.6" height="145.0" fill="#fff" stroke="#9a9a9a" stroke-width="1"/>
<polyline points="248.2,704.5 250.1,704.3 252.1,704.2 254.0,704.0 255.9,703.9 257.8,703.7 259.6,703.6 261.5,703.4 263.4,703.3 265.1,703.3 266.7,703.3 268.4,703.3 270.0,703.3 271.7,703.3 273.3,703.3 275.0,703.3 276.8,703.6 278.5,703.9 280.2,704.2 282.0,704.5 284.0,705.1 285.9,705.8 287.9,706.4 289.8,707.3 291.8,708.3 293.7,709.2 296.0,709.9 298.4,710.6 300.8,712.0 303.1,713.4 305.4,714.5 307.7,715.7 310.0,716.9 312.4,718.3 314.1,717.4 315.9,716.9 318.2,716.1 320.6,714.8 322.4,716.6 324.1,718.2 325.9,720.3 327.6,720.7 329.4,724.0 331.1,726.5 332.9,727.0 334.6,725.5 336.4,724.4 338.1,727.5 340.5,729.2 342.8,730.1 345.1,730.6 347.5,730.0 349.8,730.2 352.1,732.1 354.5,731.5 356.8,732.4 358.6,733.7 360.3,734.3 362.1,736.6 363.8,737.7 365.6,739.4 367.3,739.1 369.1,739.7 370.8,739.5 373.1,740.6 375.5,740.8 377.9,740.6 380.2,742.7 382.5,742.4 384.8,741.8 386.6,741.6 388.3,740.7 390.1,740.6 391.8,741.4" fill="none" stroke="#000" stroke-width="1.1" stroke-linejoin="round"/>
<polyline points="248.2,702.1 250.1,702.7 252.1,703.4 254.0,704.0 255.9,704.6 257.8,705.1 259.6,705.7 261.5,706.2 263.4,706.8 265.1,707.6 266.9,708.3 268.6,709.1 270.4,709.9 272.0,710.7 273.6,711.5 275.3,712.2 276.9,713.0 278.5,713.8 280.1,713.7 281.8,713.6 283.4,713.6 285.1,713.5 286.7,713.4 288.4,713.4 290.2,713.4 291.9,713.4 293.7,713.4 295.4,712.8 297.2,712.2 298.9,714.0 300.7,715.7 303.0,717.5 305.4,719.2 307.8,721.1 310.1,723.3 312.4,722.4 314.7,721.5 316.6,721.4 318.5,722.1 320.3,722.3 322.2,722.1 324.1,722.2 326.0,722.0 328.0,721.9 329.9,722.9 332.3,726.4 334.6,721.1 336.9,725.8 338.9,725.1 340.8,725.9 342.8,726.2 345.1,731.5 347.5,730.0 349.8,729.5 352.1,730.4 354.5,730.4 356.8,732.6 359.1,734.4 361.5,733.2 363.8,735.1 366.1,735.0 368.5,735.8 370.2,738.1 372.0,736.9 373.8,739.6 375.5,739.0 377.2,739.8 379.0,739.8 380.8,740.8 382.5,740.6 384.9,741.3 387.2,744.7 389.5,744.8 391.8,747.2" fill="none" stroke="#0000ff" stroke-width="1.1" stroke-linejoin="round"/>
<polyline points="273.9,834.2 286.7,830.3 300.7,826.5 314.7,823.3 328.8,820.7 342.8,818.6 349.8,817.2 356.8,815.5 363.8,813.9 370.8,813.7 375.5,814.4 382.5,816.7 391.8,819.5" fill="none" stroke="#ff0000" stroke-width="1.1" stroke-linejoin="round"/>
<text x="237.1" y="710.4" text-anchor="end" font-size="7"><tspan>10</tspan><tspan font-size="5" dy="-3">11</tspan></text>
<text x="237.1" y="727.6" text-anchor="end" font-size="7"><tspan>10</tspan><tspan font-size="5" dy="-3">10</tspan></text>
<text x="237.1" y="744.9" text-anchor="end" font-size="7"><tspan>10</tspan><tspan font-size="5" dy="-3">9</tspan></text>
<text x="237.1" y="762.1" text-anchor="end" font-size="7"><tspan>10</tspan><tspan font-size="5" dy="-3">8</tspan></text>
<text x="237.1" y="779.3" text-anchor="end" font-size="7"><tspan>10</tspan><tspan font-size="5" dy="-3">7</tspan></text>
<text x="237.1" y="796.5" text-anchor="end" font-size="7"><tspan>10</tspan><tspan font-size="5" dy="-3">6</tspan></text>
<text x="237.1" y="813.8" text-anchor="end" font-size="7"><tspan>10</tspan><tspan font-size="5" dy="-3">5</tspan></text>
<text x="237.1" y="831.0" text-anchor="end" font-size="7"><tspan>10</tspan><tspan font-size="5" dy="-3">4</tspan></text>
<text x="259.9" y="850.8" text-anchor="middle" font-size="7">256</text>
<text x="278.7" y="850.8" text-anchor="middle" font-size="7">128</text>
<text x="297.4" y="850.8" text-anchor="middle" font-size="7">64</text>
<text x="316.2" y="850.8" text-anchor="middle" font-size="7">32</text>
<text x="335.0" y="850.8" text-anchor="middle" font-size="7">16</text>
<text x="353.8" y="850.8" text-anchor="middle" font-size="7">8</text>
<text x="372.6" y="850.8" text-anchor="middle" font-size="7">4</text>
<text x="391.4" y="850.8" text-anchor="middle" font-size="7">2</text>
<path d="M241.4,707.8h-2.5 M241.4,725.0h-2.5 M241.4,742.3h-2.5 M241.4,759.5h-2.5 M241.4,776.7h-2.5 M241.4,793.9h-2.5 M241.4,811.2h-2.5 M241.4,828.4h-2.5 M241.4,837.4h-1.4 M241.4,835.3h-1.4 M241.4,833.6h-1.4 M241.4,832.2h-1.4 M241.4,831.1h-1.4 M241.4,830.1h-1.4 M241.4,829.2h-1.4 M241.4,823.2h-1.4 M241.4,820.2h-1.4 M241.4,818.0h-1.4 M241.4,816.4h-1.4 M241.4,815.0h-1.4 M241.4,813.8h-1.4 M241.4,812.8h-1.4 M241.4,812.0h-1.4 M241.4,806.0h-1.4 M241.4,803.0h-1.4 M241.4,800.8h-1.4 M241.4,799.1h-1.4 M241.4,797.8h-1.4 M241.4,796.6h-1.4 M241.4,795.6h-1.4 M241.4,794.7h-1.4 M241.4,788.8h-1.4 M241.4,785.7h-1.4 M241.4,783.6h-1.4 M241.4,781.9h-1.4 M241.4,780.5h-1.4 M241.4,779.4h-1.4 M241.4,778.4h-1.4 M241.4,777.5h-1.4 M241.4,771.5h-1.4 M241.4,768.5h-1.4 M241.4,766.3h-1.4 M241.4,764.7h-1.4 M241.4,763.3h-1.4 M241.4,762.2h-1.4 M241.4,761.2h-1.4 M241.4,760.3h-1.4 M241.4,754.3h-1.4 M241.4,751.3h-1.4 M241.4,749.1h-1.4 M241.4,747.4h-1.4 M241.4,746.1h-1.4 M241.4,744.9h-1.4 M241.4,743.9h-1.4 M241.4,743.0h-1.4 M241.4,737.1h-1.4 M241.4,734.0h-1.4 M241.4,731.9h-1.4 M241.4,730.2h-1.4 M241.4,728.9h-1.4 M241.4,727.7h-1.4 M241.4,726.7h-1.4 M241.4,725.8h-1.4 M241.4,719.8h-1.4 M241.4,716.8h-1.4 M241.4,714.7h-1.4 M241.4,713.0h-1.4 M241.4,711.6h-1.4 M241.4,710.5h-1.4 M241.4,709.5h-1.4 M241.4,708.6h-1.4 M241.4,702.6h-1.4 M241.4,699.6h-1.4 M241.4,697.4h-1.4 M391.4,840.6v1.6 M380.4,840.6v1.6 M372.6,840.6v1.6 M366.6,840.6v1.6 M361.6,840.6v1.6 M357.4,840.6v1.6 M353.8,840.6v1.6 M350.6,840.6v1.6 M329.0,840.6v1.6 M318.0,840.6v1.6 M310.2,840.6v1.6 M304.1,840.6v1.6 M299.2,840.6v1.6 M295.0,840.6v1.6 M291.4,840.6v1.6 M288.2,840.6v1.6 M266.6,840.6v1.6 M255.6,840.6v1.6 M247.8,840.6v1.6 M259.9,840.6v2.5 M278.7,840.6v2.5 M297.4,840.6v2.5 M316.2,840.6v2.5 M335.0,840.6v2.5 M353.8,840.6v2.5 M372.6,840.6v2.5 M391.4,840.6v2.5" stroke="#555" stroke-width="0.7" fill="none"/>
<text x="319.7" y="860.6" text-anchor="middle" font-size="10" textLength="74.5" lengthAdjust="spacingAndGlyphs">Wavelength (km)</text>
<text transform="translate(221.3,768.3) rotate(-90)" text-anchor="middle" font-size="9.8" textLength="96.5" lengthAdjust="spacingAndGlyphs">Information Content</text>
<rect x="323.6" y="749.6" width="71" height="37.4" rx="1.5" fill="#fff" fill-opacity="0.8" stroke="#d6d6d6" stroke-width="0.8"/>
<path d="M326.2,756.0h15.6" stroke="#000" stroke-width="1.1"/>
<text x="347.6" y="759.0" font-size="8.8" textLength="23.2" lengthAdjust="spacingAndGlyphs">MRMS</text>
<path d="M326.2,768.0h15.6" stroke="#0000ff" stroke-width="1.1"/>
<text x="347.6" y="771.0" font-size="8.8" textLength="45.0" lengthAdjust="spacingAndGlyphs">NowcastNet</text>
<path d="M326.2,780.0h15.6" stroke="#ff0000" stroke-width="1.1"/>
<text x="347.6" y="783.0" font-size="8.8" textLength="21.2" lengthAdjust="spacingAndGlyphs">HRRR</text>
<rect x="432.6" y="695.6" width="156.6" height="145.0" fill="#fff" stroke="#9a9a9a" stroke-width="1"/>
<polyline points="439.3,702.1 441.2,702.2 443.1,702.4 444.9,702.5 446.8,702.7 448.7,702.8 450.6,702.9 452.4,703.1 454.3,703.2 456.1,703.4 458.0,703.5 459.8,703.3 461.5,703.1 463.2,703.0 465.0,702.8 466.8,702.6 468.5,702.4 470.1,702.6 471.8,702.8 473.4,703.1 475.1,703.3 476.7,703.5 478.4,704.5 480.2,705.5 481.9,706.5 483.7,707.5 485.4,708.1 487.2,708.7 488.9,709.3 490.7,709.9 492.4,710.8 494.2,711.6 495.9,712.5 497.7,713.4 500.0,715.2 502.4,717.0 504.8,717.8 507.1,718.7 509.5,721.7 511.8,724.3 513.5,725.9 515.3,726.5 517.0,725.0 518.8,723.5 520.5,725.2 522.3,725.4 524.0,727.8 525.8,728.8 528.1,732.5 530.4,732.1 532.8,735.2 535.1,734.4 537.5,737.2 539.8,737.5 542.1,739.2 544.5,741.8 546.8,740.8 549.1,742.2 551.5,745.8 553.8,746.1 556.1,746.8 558.5,750.9 560.8,751.6 563.1,750.2 565.5,751.4 567.8,751.0 570.1,751.8 572.5,752.9 574.9,751.4 577.2,752.4 579.5,751.3 581.8,753.1" fill="none" stroke="#000" stroke-width="1.1" stroke-linejoin="round"/>
<polyline points="439.3,705.2 441.2,706.1 443.1,707.1 444.9,708.0 446.8,709.0 448.7,709.9 450.6,711.0 452.4,712.0 454.3,713.1 456.1,714.1 458.0,715.2 459.8,716.2 461.5,717.3 463.2,718.4 465.0,719.4 466.8,720.5 468.5,721.5 470.4,720.7 472.3,719.9 474.1,719.2 476.0,718.4 477.9,717.6 479.8,717.7 481.6,717.8 483.5,717.8 485.3,717.9 487.2,718.0 489.5,721.3 491.9,724.6 493.8,725.5 495.8,726.5 497.7,727.5 500.0,729.0 502.4,730.6 504.1,730.4 505.9,728.9 507.9,729.4 509.8,730.5 511.8,730.7 513.5,731.2 515.3,729.7 517.0,731.5 518.8,730.7 520.5,731.8 522.3,733.0 524.0,731.3 525.8,730.8 528.1,732.0 530.4,732.0 532.8,734.5 535.1,734.1 537.9,731.1 539.8,734.7 542.1,738.2 544.5,739.3 546.8,742.0 549.1,743.3 551.5,745.5 553.8,746.3 556.1,747.8 558.5,748.7 560.8,748.7 563.1,751.5 565.5,751.2 567.8,753.8 570.1,755.4 572.5,755.8 574.9,755.6 577.2,758.5 579.5,759.9 581.8,761.2" fill="none" stroke="#0000ff" stroke-width="1.1" stroke-linejoin="round"/>
<polyline points="465.0,819.8 476.7,816.0 488.4,812.0 500.1,808.5 511.8,806.7 521.1,806.2 528.1,806.4 535.1,806.2 542.1,804.6 546.8,802.7 551.5,800.8 555.0,800.4 558.5,802.2 562.0,806.2 565.5,809.7 570.2,811.6 573.7,815.5 577.2,823.7 579.5,831.2 583.0,834.2" fill="none" stroke="#ff0000" stroke-width="1.1" stroke-linejoin="round"/>
<text x="428.3" y="713.2" text-anchor="end" font-size="7"><tspan>10</tspan><tspan font-size="5" dy="-3">11</tspan></text>
<text x="428.3" y="735.2" text-anchor="end" font-size="7"><tspan>10</tspan><tspan font-size="5" dy="-3">10</tspan></text>
<text x="428.3" y="757.2" text-anchor="end" font-size="7"><tspan>10</tspan><tspan font-size="5" dy="-3">9</tspan></text>
<text x="428.3" y="779.2" text-anchor="end" font-size="7"><tspan>10</tspan><tspan font-size="5" dy="-3">8</tspan></text>
<text x="428.3" y="801.2" text-anchor="end" font-size="7"><tspan>10</tspan><tspan font-size="5" dy="-3">7</tspan></text>
<text x="428.3" y="823.2" text-anchor="end" font-size="7"><tspan>10</tspan><tspan font-size="5" dy="-3">6</tspan></text>
<text x="450.6" y="850.8" text-anchor="middle" font-size="7">256</text>
<text x="469.4" y="850.8" text-anchor="middle" font-size="7">128</text>
<text x="488.2" y="850.8" text-anchor="middle" font-size="7">64</text>
<text x="507.1" y="850.8" text-anchor="middle" font-size="7">32</text>
<text x="525.9" y="850.8" text-anchor="middle" font-size="7">16</text>
<text x="544.7" y="850.8" text-anchor="middle" font-size="7">8</text>
<text x="563.5" y="850.8" text-anchor="middle" font-size="7">4</text>
<text x="582.3" y="850.8" text-anchor="middle" font-size="7">2</text>
<path d="M432.6,710.6h-2.5 M432.6,732.6h-2.5 M432.6,754.6h-2.5 M432.6,776.6h-2.5 M432.6,798.6h-2.5 M432.6,820.6h-2.5 M432.6,836.0h-1.4 M432.6,832.1h-1.4 M432.6,829.4h-1.4 M432.6,827.2h-1.4 M432.6,825.5h-1.4 M432.6,824.0h-1.4 M432.6,822.7h-1.4 M432.6,821.6h-1.4 M432.6,814.0h-1.4 M432.6,810.1h-1.4 M432.6,807.4h-1.4 M432.6,805.2h-1.4 M432.6,803.5h-1.4 M432.6,802.0h-1.4 M432.6,800.7h-1.4 M432.6,799.6h-1.4 M432.6,792.0h-1.4 M432.6,788.1h-1.4 M432.6,785.4h-1.4 M432.6,783.2h-1.4 M432.6,781.5h-1.4 M432.6,780.0h-1.4 M432.6,778.7h-1.4 M432.6,777.6h-1.4 M432.6,770.0h-1.4 M432.6,766.1h-1.4 M432.6,763.4h-1.4 M432.6,761.2h-1.4 M432.6,759.5h-1.4 M432.6,758.0h-1.4 M432.6,756.7h-1.4 M432.6,755.6h-1.4 M432.6,748.0h-1.4 M432.6,744.1h-1.4 M432.6,741.4h-1.4 M432.6,739.2h-1.4 M432.6,737.5h-1.4 M432.6,736.0h-1.4 M432.6,734.7h-1.4 M432.6,733.6h-1.4 M432.6,726.0h-1.4 M432.6,722.1h-1.4 M432.6,719.4h-1.4 M432.6,717.2h-1.4 M432.6,715.5h-1.4 M432.6,714.0h-1.4 M432.6,712.7h-1.4 M432.6,711.6h-1.4 M432.6,704.0h-1.4 M432.6,700.1h-1.4 M432.6,697.4h-1.4 M582.3,840.6v1.6 M571.3,840.6v1.6 M563.5,840.6v1.6 M557.4,840.6v1.6 M552.5,840.6v1.6 M548.3,840.6v1.6 M544.7,840.6v1.6 M541.5,840.6v1.6 M519.8,840.6v1.6 M508.8,840.6v1.6 M501.0,840.6v1.6 M494.9,840.6v1.6 M490.0,840.6v1.6 M485.8,840.6v1.6 M482.2,840.6v1.6 M479.0,840.6v1.6 M457.3,840.6v1.6 M446.3,840.6v1.6 M438.5,840.6v1.6 M450.6,840.6v2.5 M469.4,840.6v2.5 M488.2,840.6v2.5 M507.1,840.6v2.5 M525.9,840.6v2.5 M544.7,840.6v2.5 M563.5,840.6v2.5 M582.3,840.6v2.5" stroke="#555" stroke-width="0.7" fill="none"/>
<text x="510.9" y="860.6" text-anchor="middle" font-size="10" textLength="74.5" lengthAdjust="spacingAndGlyphs">Wavelength (km)</text>
<text transform="translate(412.8,768.3) rotate(-90)" text-anchor="middle" font-size="9.8" textLength="96.5" lengthAdjust="spacingAndGlyphs">Information Content</text>
<rect x="435.8" y="749.6" width="71.8" height="38" rx="1.5" fill="#fff" fill-opacity="0.8" stroke="#d6d6d6" stroke-width="0.8"/>
<path d="M438.4,756.0h15.6" stroke="#000" stroke-width="1.1"/>
<text x="459.8" y="759.0" font-size="8.8" textLength="23.2" lengthAdjust="spacingAndGlyphs">MRMS</text>
<path d="M438.4,768.0h15.6" stroke="#0000ff" stroke-width="1.1"/>
<text x="459.8" y="771.0" font-size="8.8" textLength="45.0" lengthAdjust="spacingAndGlyphs">NowcastNet</text>
<path d="M438.4,780.0h15.6" stroke="#ff0000" stroke-width="1.1"/>
<text x="459.8" y="783.0" font-size="8.8" textLength="21.2" lengthAdjust="spacingAndGlyphs">HRRR</text>
<defs><linearGradient id="cg" x1="0" y1="1" x2="0" y2="0"><stop offset="0" stop-color="#ffffff"/><stop offset="1" stop-color="#1900ff"/></linearGradient></defs>
<rect x="615.5" y="182.7" width="16.5" height="323.5" fill="url(#cg)" stroke="#333" stroke-width="0.8"/>
<text x="639.0" y="513.6" font-size="20.4" textLength="12.7" lengthAdjust="spacingAndGlyphs">0</text>
<text x="639.0" y="459.7" font-size="20.4" textLength="12.7" lengthAdjust="spacingAndGlyphs">5</text>
<text x="639.0" y="405.8" font-size="20.4" textLength="25.4" lengthAdjust="spacingAndGlyphs">10</text>
<text x="639.0" y="351.8" font-size="20.4" textLength="25.4" lengthAdjust="spacingAndGlyphs">15</text>
<text x="639.0" y="297.9" font-size="20.4" textLength="25.4" lengthAdjust="spacingAndGlyphs">20</text>
<text x="639.0" y="244.0" font-size="20.4" textLength="25.4" lengthAdjust="spacingAndGlyphs">25</text>
<text x="639.0" y="190.1" font-size="20.4" textLength="25.4" lengthAdjust="spacingAndGlyphs">30</text>
<path d="M632,506.2h3.5 M632,452.3h3.5 M632,398.4h3.5 M632,344.4h3.5 M632,290.5h3.5 M632,236.6h3.5 M632,182.7h3.5" stroke="#222" stroke-width="0.9"/>
<text transform="translate(680.0,344.2) rotate(-90)" text-anchor="middle" font-size="17" font-weight="bold" stroke="#000" stroke-width="0.3" textLength="203.5" lengthAdjust="spacingAndGlyphs">Precipitation (mm/h)</text>
<text x="92.9" y="15.6" font-size="20.6" font-style="italic">T</text>
<text x="112.5" y="15.6" font-size="20.6" font-weight="bold" stroke="#000" stroke-width="0.35" textLength="13.6" lengthAdjust="spacingAndGlyphs">+</text>
<text x="135.7" y="15.6" font-size="20.6" font-weight="bold" stroke="#000" stroke-width="0.35" textLength="26" lengthAdjust="spacingAndGlyphs">1h</text>
<text x="283.4" y="15.6" font-size="20.6" font-style="italic">T</text>
<text x="303.0" y="15.6" font-size="20.6" font-weight="bold" stroke="#000" stroke-width="0.35" textLength="13.6" lengthAdjust="spacingAndGlyphs">+</text>
<text x="326.2" y="15.6" font-size="20.6" font-weight="bold" stroke="#000" stroke-width="0.35" textLength="26" lengthAdjust="spacingAndGlyphs">2h</text>
<text x="473.9" y="15.6" font-size="20.6" font-style="italic">T</text>
<text x="493.5" y="15.6" font-size="20.6" font-weight="bold" stroke="#000" stroke-width="0.35" textLength="13.6" lengthAdjust="spacingAndGlyphs">+</text>
<text x="516.7" y="15.6" font-size="20.6" font-weight="bold" stroke="#000" stroke-width="0.35" textLength="26" lengthAdjust="spacingAndGlyphs">3h</text>
<text transform="translate(14.4,120.5) rotate(-90)" text-anchor="middle" font-size="18.4" font-weight="bold" stroke="#000" stroke-width="0.4" textLength="61" lengthAdjust="spacingAndGlyphs">MRMS</text>
<text transform="translate(14.4,346.3) rotate(-90)" text-anchor="middle" font-size="18.4" font-weight="bold" stroke="#000" stroke-width="0.4" textLength="122" lengthAdjust="spacingAndGlyphs">NowcastNet</text>
<text transform="translate(14.4,571.2) rotate(-90)" text-anchor="middle" font-size="18.4" font-weight="bold" stroke="#000" stroke-width="0.4" textLength="55" lengthAdjust="spacingAndGlyphs">HRRR</text>
<text transform="translate(14.4,774.2) rotate(-90)" text-anchor="middle" font-size="18.4" font-weight="bold" stroke="#000" stroke-width="0.4" textLength="39" lengthAdjust="spacingAndGlyphs">PSD</text>
</svg></body></html>
